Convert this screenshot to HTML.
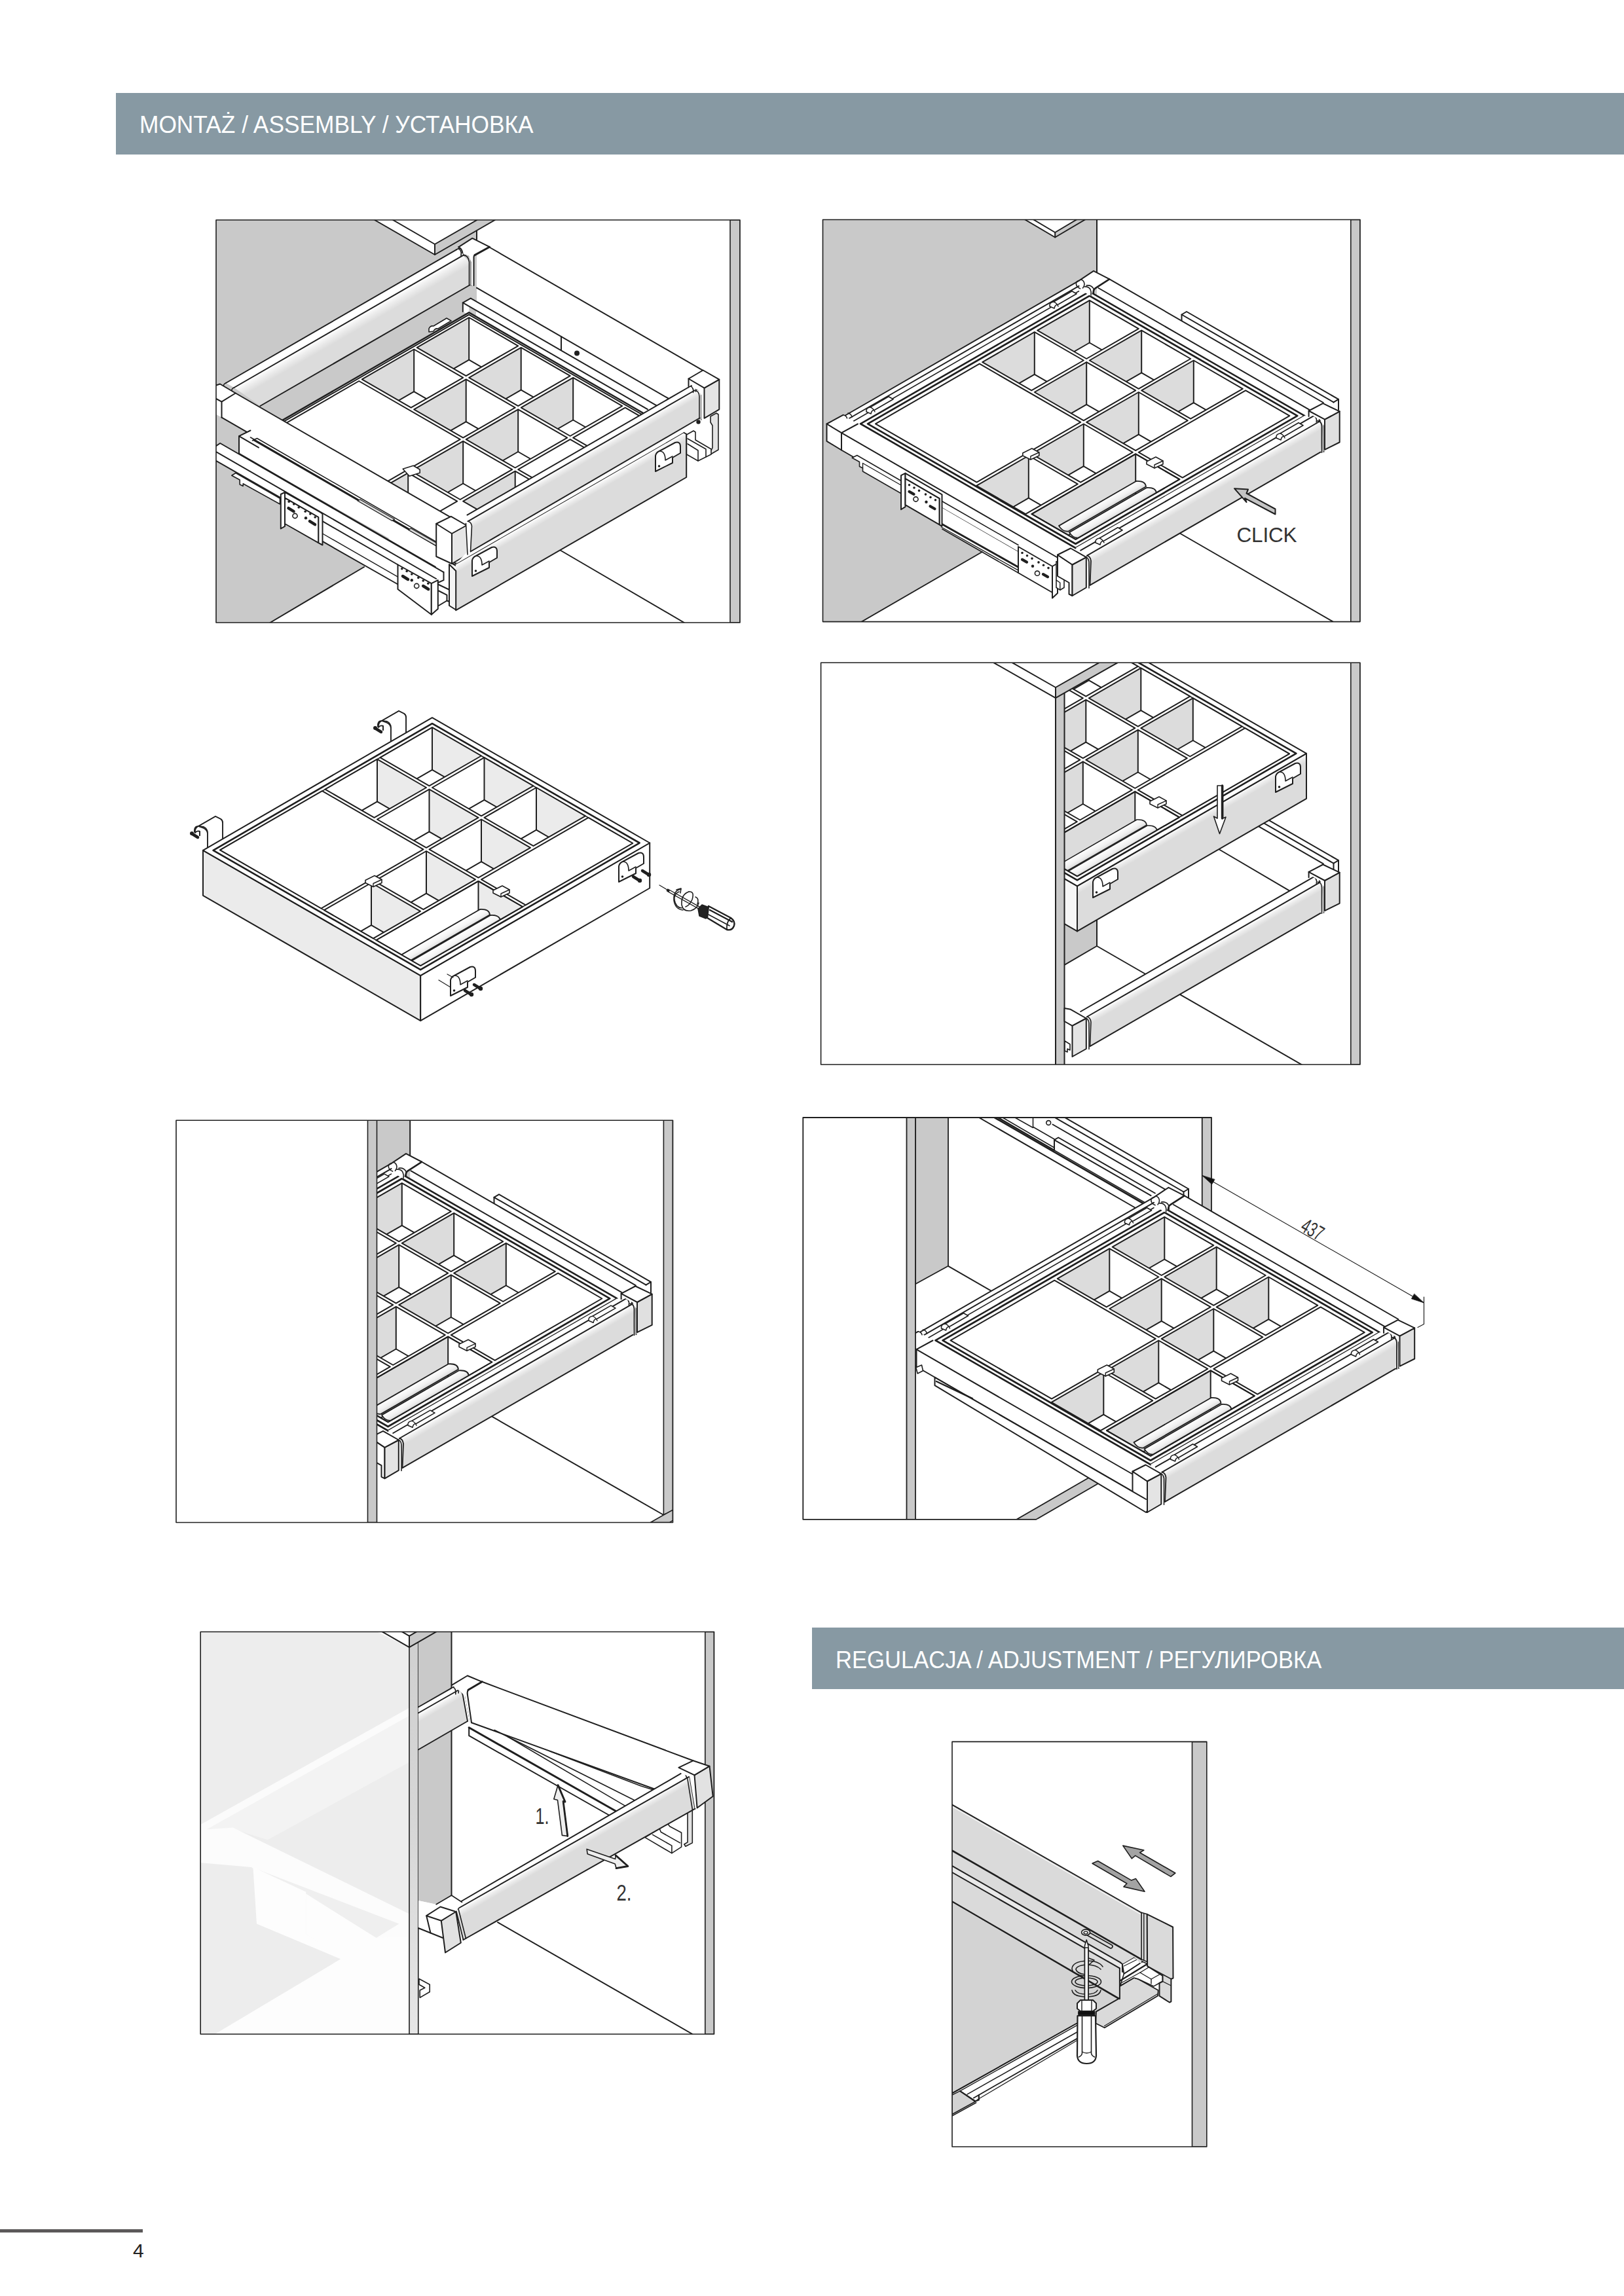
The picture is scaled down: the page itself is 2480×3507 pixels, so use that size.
<!DOCTYPE html>
<html lang="pl">
<head>
<meta charset="utf-8">
<title>Montaż / Assembly / Установка</title>
<style>
html,body{margin:0;padding:0;background:#fff;}
body{width:2480px;height:3507px;position:relative;overflow:hidden;font-family:"Liberation Sans",sans-serif;}
.bar{position:absolute;background:#8799a3;color:#fff;font-size:37px;white-space:nowrap;}
.bar span{position:absolute;left:0;top:0;display:inline-block;transform-origin:0 0;}
#bar1{left:177px;top:142px;width:2303px;height:94px;}
#bar2{left:1240px;top:2486px;width:1240px;height:94px;}
#foot{position:absolute;left:0;top:3405px;width:218px;height:4.5px;background:#5c595a;}
#pno{position:absolute;left:203px;top:3423px;font-size:30px;color:#222;line-height:1;}
svg{position:absolute;left:0;top:0;}
.lbl{font-family:"Liberation Sans",sans-serif;fill:#333;}
</style>
</head>
<body>
<div class="bar" id="bar1"><span id="t1" style="left:36px;top:28px;transform:scaleX(0.954);">MONTAŻ / ASSEMBLY / УСТАНОВКА</span></div>
<div class="bar" id="bar2"><span id="t2" style="left:36px;top:28.5px;transform:scaleX(0.935);">REGULACJA / ADJUSTMENT / РЕГУЛИРОВКА</span></div>
<div id="foot"></div>
<div id="pno">4</div>
<svg width="2480" height="3507" viewBox="0 0 2480 3507" fill="none" stroke="#222" stroke-width="2" stroke-linejoin="round" stroke-linecap="round">
<defs>
<linearGradient id="gtube" x1="0" y1="0" x2="0.5" y2="0.866"><stop offset="0" stop-color="#fff"/><stop offset="1" stop-color="#d4d4d4"/></linearGradient>
</defs>
<g id="fig1">
<clipPath id="cp1"><polygon points="330.0,336.0 1130.0,336.0 1130.0,951.0 330.0,951.0"/></clipPath><g clip-path="url(#cp1)">
<polygon points="330.0,336.0 728.0,336.0 728.0,470.0 700.0,700.0 556.0,866.0 412.0,951.0 330.0,951.0" fill="#c9c9c9" stroke="none" />
<polyline points="412.5,951.0 556.0,866.0" fill="none" stroke="#1f1f1f" stroke-width="2" />
<polyline points="728.0,352.8 728.0,366.0" fill="none" stroke="#1f1f1f" stroke-width="2" />
<rect x="1115" y="336" width="15" height="615" fill="#c9c9c9" stroke="#1f1f1f" stroke-width="1.6"/>
<polyline points="854.8,840.0 1044.8,951.0" fill="none" stroke="#1f1f1f" stroke-width="2" />
<polygon points="572.0,336.0 664.0,389.0 756.0,336.0" fill="#fff" stroke="none" />
<polygon points="664.0,373.0 728.0,336.0 756.0,336.0 664.0,389.0" fill="#c9c9c9" stroke="none" />
<polyline points="600.0,336.0 664.0,373.0 728.5,336.0" fill="none" stroke="#1f1f1f" stroke-width="2" />
<polyline points="572.0,336.0 664.0,389.0 756.0,336.0" fill="none" stroke="#1f1f1f" stroke-width="2" />
<polyline points="664.0,373.0 664.0,389.0" fill="none" stroke="#1f1f1f" stroke-width="2" />
<polyline points="747.2,377.5 1073.5,565.9" fill="none" stroke="#1f1f1f" stroke-width="2" />
<polyline points="728.0,439.6 1020.0,608.2" fill="none" stroke="#1f1f1f" stroke-width="2" />
<polyline points="857.0,514.0 857.0,535.5" fill="none" stroke="#1f1f1f" stroke-width="2" />
<circle cx="881.0" cy="539.5" r="4" fill="#1f1f1f" stroke="none"/>
<polygon points="706.8,462.4 718.8,455.6 1003.8,620.1 988.8,625.2" fill="#fff" stroke="none" />
<polygon points="706.8,462.4 706.8,476.0 716.4,481.0 716.4,468.0" fill="#fff" stroke="none" />
<polyline points="1003.8,620.1 718.8,455.6 706.8,462.4 988.8,625.2" fill="none" stroke="#1f1f1f" stroke-width="2" />
<polyline points="706.8,462.4 706.8,476.0" fill="none" stroke="#1f1f1f" stroke-width="2" />
<polygon points="716.2,477.4 1042.9,666.0 698.2,865.0 371.5,676.4" fill="#fff" stroke="#1f1f1f" stroke-width="2.5" />
<polygon points="716.2,480.6 1037.3,666.0 698.2,861.8 377.1,676.4" fill="none" stroke="#1f1f1f" stroke-width="2" />
<polygon points="716.2,485.0 791.2,528.3 711.7,574.2 636.7,530.9" fill="#fff" stroke="none" />
<clipPath id="cp2"><polygon points="716.2,485.0 791.2,528.3 711.7,574.2 636.7,530.9"/></clipPath><g clip-path="url(#cp2)">
<polygon points="716.2,485.0 636.7,530.9 636.7,595.6 716.2,549.7" fill="#dcdcdc" stroke="none" />
<polyline points="716.2,485.0 716.2,549.7" fill="none" stroke="#1f1f1f" stroke-width="2" />
<polyline points="636.7,595.6 716.2,549.7 791.2,593.0" fill="none" stroke="#1f1f1f" stroke-width="2" />
</g>
<polygon points="716.2,485.0 791.2,528.3 711.7,574.2 636.7,530.9" fill="none" stroke="#1f1f1f" stroke-width="2" />
<polygon points="795.7,530.9 870.7,574.2 791.2,620.1 716.2,576.8" fill="#fff" stroke="none" />
<clipPath id="cp3"><polygon points="795.7,530.9 870.7,574.2 791.2,620.1 716.2,576.8"/></clipPath><g clip-path="url(#cp3)">
<polygon points="795.7,530.9 716.2,576.8 716.2,641.5 795.7,595.6" fill="#dcdcdc" stroke="none" />
<polyline points="795.7,530.9 795.7,595.6" fill="none" stroke="#1f1f1f" stroke-width="2" />
<polyline points="716.2,641.5 795.7,595.6 870.7,638.9" fill="none" stroke="#1f1f1f" stroke-width="2" />
</g>
<polygon points="795.7,530.9 870.7,574.2 791.2,620.1 716.2,576.8" fill="none" stroke="#1f1f1f" stroke-width="2" />
<polygon points="875.2,576.8 950.2,620.1 870.7,666.0 795.7,622.7" fill="#fff" stroke="none" />
<clipPath id="cp4"><polygon points="875.2,576.8 950.2,620.1 870.7,666.0 795.7,622.7"/></clipPath><g clip-path="url(#cp4)">
<polygon points="875.2,576.8 795.7,622.7 795.7,687.4 875.2,641.5" fill="#dcdcdc" stroke="none" />
<polyline points="875.2,576.8 875.2,641.5" fill="none" stroke="#1f1f1f" stroke-width="2" />
<polyline points="795.7,687.4 875.2,641.5 950.2,684.8" fill="none" stroke="#1f1f1f" stroke-width="2" />
</g>
<polygon points="875.2,576.8 950.2,620.1 870.7,666.0 795.7,622.7" fill="none" stroke="#1f1f1f" stroke-width="2" />
<polygon points="632.2,533.5 707.2,576.8 627.7,622.7 552.7,579.4" fill="#fff" stroke="none" />
<clipPath id="cp5"><polygon points="632.2,533.5 707.2,576.8 627.7,622.7 552.7,579.4"/></clipPath><g clip-path="url(#cp5)">
<polygon points="632.2,533.5 552.7,579.4 552.7,644.1 632.2,598.2" fill="#dcdcdc" stroke="none" />
<polyline points="632.2,533.5 632.2,598.2" fill="none" stroke="#1f1f1f" stroke-width="2" />
<polyline points="552.7,644.1 632.2,598.2 707.2,641.5" fill="none" stroke="#1f1f1f" stroke-width="2" />
</g>
<polygon points="632.2,533.5 707.2,576.8 627.7,622.7 552.7,579.4" fill="none" stroke="#1f1f1f" stroke-width="2" />
<polygon points="711.7,579.4 786.7,622.7 707.2,668.6 632.2,625.3" fill="#fff" stroke="none" />
<clipPath id="cp6"><polygon points="711.7,579.4 786.7,622.7 707.2,668.6 632.2,625.3"/></clipPath><g clip-path="url(#cp6)">
<polygon points="711.7,579.4 632.2,625.3 632.2,690.0 711.7,644.1" fill="#dcdcdc" stroke="none" />
<polyline points="711.7,579.4 711.7,644.1" fill="none" stroke="#1f1f1f" stroke-width="2" />
<polyline points="632.2,690.0 711.7,644.1 786.7,687.4" fill="none" stroke="#1f1f1f" stroke-width="2" />
</g>
<polygon points="711.7,579.4 786.7,622.7 707.2,668.6 632.2,625.3" fill="none" stroke="#1f1f1f" stroke-width="2" />
<polygon points="791.2,625.3 866.2,668.6 786.7,714.5 711.7,671.2" fill="#fff" stroke="none" />
<clipPath id="cp7"><polygon points="791.2,625.3 866.2,668.6 786.7,714.5 711.7,671.2"/></clipPath><g clip-path="url(#cp7)">
<polygon points="791.2,625.3 711.7,671.2 711.7,735.9 791.2,690.0" fill="#dcdcdc" stroke="none" />
<polyline points="791.2,625.3 791.2,690.0" fill="none" stroke="#1f1f1f" stroke-width="2" />
<polyline points="711.7,735.9 791.2,690.0 866.2,733.3" fill="none" stroke="#1f1f1f" stroke-width="2" />
</g>
<polygon points="791.2,625.3 866.2,668.6 786.7,714.5 711.7,671.2" fill="none" stroke="#1f1f1f" stroke-width="2" />
<polygon points="707.2,673.8 782.2,717.1 702.7,763.0 627.7,719.7" fill="#fff" stroke="none" />
<clipPath id="cp8"><polygon points="707.2,673.8 782.2,717.1 702.7,763.0 627.7,719.7"/></clipPath><g clip-path="url(#cp8)">
<polygon points="707.2,673.8 627.7,719.7 627.7,784.4 707.2,738.5" fill="#dcdcdc" stroke="none" />
<polyline points="707.2,673.8 707.2,738.5" fill="none" stroke="#1f1f1f" stroke-width="2" />
<polyline points="627.7,784.4 707.2,738.5 782.2,781.8" fill="none" stroke="#1f1f1f" stroke-width="2" />
</g>
<polygon points="707.2,673.8 782.2,717.1 702.7,763.0 627.7,719.7" fill="none" stroke="#1f1f1f" stroke-width="2" />
<polygon points="786.7,719.7 861.7,763.0 782.2,808.9 707.2,765.6" fill="#fff" stroke="none" />
<clipPath id="cp9"><polygon points="786.7,719.7 861.7,763.0 782.2,808.9 707.2,765.6"/></clipPath><g clip-path="url(#cp9)">
<polygon points="786.7,719.7 707.2,765.6 707.2,830.3 786.7,784.4" fill="#dcdcdc" stroke="none" />
<polyline points="786.7,719.7 786.7,784.4" fill="none" stroke="#1f1f1f" stroke-width="2" />
<polyline points="707.2,830.3 786.7,784.4 861.7,827.7" fill="none" stroke="#1f1f1f" stroke-width="2" />
</g>
<polygon points="786.7,719.7 861.7,763.0 782.2,808.9 707.2,765.6" fill="none" stroke="#1f1f1f" stroke-width="2" />
<polygon points="623.2,722.3 698.2,765.6 618.7,811.5 543.7,768.2" fill="#fff" stroke="none" />
<clipPath id="cp10"><polygon points="623.2,722.3 698.2,765.6 618.7,811.5 543.7,768.2"/></clipPath><g clip-path="url(#cp10)">
<polygon points="623.2,722.3 543.7,768.2 543.7,832.9 623.2,787.0" fill="#dcdcdc" stroke="none" />
<polyline points="623.2,722.3 623.2,787.0" fill="none" stroke="#1f1f1f" stroke-width="2" />
<polyline points="543.7,832.9 623.2,787.0 698.2,830.3" fill="none" stroke="#1f1f1f" stroke-width="2" />
</g>
<polygon points="623.2,722.3 698.2,765.6 618.7,811.5 543.7,768.2" fill="none" stroke="#1f1f1f" stroke-width="2" />
<polygon points="548.2,582.0 702.7,671.2 539.2,765.6 384.7,676.4" fill="#fff" stroke="#1f1f1f" stroke-width="2" />
<polygon points="954.7,622.7 1029.7,666.0 950.2,711.9 875.2,668.6" fill="#fff" stroke="#1f1f1f" stroke-width="2" />
<polygon points="870.7,671.2 945.7,714.5 866.2,760.4 791.2,717.1" fill="#fff" stroke="#1f1f1f" stroke-width="2" />
<path d="M655,507 l0,-5 q2,-5 7,-4 l20,-12 l7,4 l-20,12 q-5,-1 -7,4 z" fill="#fff" stroke="#1f1f1f" stroke-width="1.6" />
<path d="M615.2,716.2909606369362 l16,-5 l10,6 l0,5 l-16,5 z" fill="#fff" stroke="#1f1f1f" stroke-width="1.6" />
<linearGradient id="lg11" gradientUnits="userSpaceOnUse" x1="707.0" y1="390.2" x2="716.0" y2="405.8"><stop offset="0" stop-color="#fff"/><stop offset="0.5" stop-color="#ececec"/><stop offset="1" stop-color="#dcdcdc"/></linearGradient>
<polygon points="345.0,585.0 697.0,381.4 704.0,379.0 707.0,390.2 357.5,592.0" fill="#fff" stroke="none" />
<polygon points="357.5,592.0 707.0,390.2 717.2,400.0 717.2,435.5 397.5,620.0" fill="url(#lg11)" stroke="none" />
<polyline points="345.0,585.0 697.0,381.4" fill="none" stroke="#1f1f1f" stroke-width="2" />
<polyline points="357.5,592.0 707.0,390.2" fill="none" stroke="#1f1f1f" stroke-width="2" />
<polyline points="397.5,620.0 717.2,435.5" fill="none" stroke="#1f1f1f" stroke-width="2" />
<path d="M697,381.4 q4,-3 6,1 q2,3 1,8" fill="none" stroke="#1f1f1f" stroke-width="1.6" />
<path d="M700,380 q4,-3 7,1 q2,3 1,8" fill="none" stroke="#1f1f1f" stroke-width="1.6" />
<path d="M707,390.2 q8,-1 9.5,10 L716.5,436" fill="none" stroke="#1f1f1f" stroke-width="1.6" />
<path d="M710,389 q9,-1 9.5,11 L719.5,436" fill="none" stroke="#1f1f1f" stroke-width="1.6" />
<polygon points="700.3,377.4 721.3,363.9 747.1,376.8 725.0,389.3 723.8,392.0 723.8,436.0 719.5,436.0 719.5,400.0 716.0,391.0 708.0,388.0 704.0,380.0" fill="#fff" stroke="none" />
<path d="M700.3,377.4 L721.3,363.9 L747.1,376.8" fill="none" stroke="#1f1f1f" stroke-width="2" />
<path d="M747.5,377.3 L725,389.6" fill="none" stroke="#1f1f1f" stroke-width="3" />
<path d="M725,389.6 q-1.5,1 -1.5,3 L723.5,436" fill="none" stroke="#1f1f1f" stroke-width="2" />
<path d="M700.3,377.4 q5,2 6,9" fill="none" stroke="#1f1f1f" stroke-width="2" />
<path d="M345,585 q-5,2 -3,6 q3,5 8,6" fill="none" stroke="#1f1f1f" stroke-width="1.6" />
<path d="M357.5,592 q-5,2 -3,6 q3,5 8,7" fill="none" stroke="#1f1f1f" stroke-width="1.6" />
<polygon points="359.7,600.5 691.7,792.2 688.5,839.7 338.5,637.6 338.5,613.6" fill="#fff" stroke="none" />
<polyline points="359.7,600.5 691.7,792.2" fill="none" stroke="#1f1f1f" stroke-width="2" />
<polyline points="338.5,637.6 688.5,839.7" fill="none" stroke="#1f1f1f" stroke-width="2" />
<polygon points="330.0,588.0 335.0,586.0 359.7,600.5 338.5,613.6 338.5,637.6 330.0,633.0" fill="#fff" stroke="none" />
<polyline points="330.0,588.5 336.0,586.5 359.7,600.5 338.5,613.6 338.5,637.6" fill="none" stroke="#1f1f1f" stroke-width="2" />
<polyline points="338.5,613.6 330.0,609.0" fill="none" stroke="#1f1f1f" stroke-width="2" />
<polygon points="336.2,677.0 677.5,873.8 677.5,887.5 695.0,905.0 695.0,922.5 682.5,917.5 668.8,930.0 658.8,938.8 607.5,900.0 607.5,892.5 491.2,826.2 488.0,831.2 435.0,801.2 428.8,807.5 428.8,760.0 330.0,703.8 330.0,681.2" fill="#fff" stroke="none" />
<polygon points="365.0,666.2 382.5,657.5 686.2,832.5 686.2,855.0 670.0,865.0 365.0,692.5" fill="#fff" stroke="none" />
<polyline points="365.0,692.5 365.0,666.2 382.5,657.5" fill="none" stroke="#1f1f1f" stroke-width="2" />
<polyline points="365.0,666.2 395.0,683.6" fill="none" stroke="#1f1f1f" stroke-width="2" />
<polyline points="382.5,668.0 682.5,841.2" fill="none" stroke="#1f1f1f" stroke-width="1.6" />
<polyline points="387.5,672.0 685.5,844.1" fill="none" stroke="#1f1f1f" stroke-width="2.6" />
<polyline points="385.5,673.0 392.5,669.5 684.5,838.1" fill="none" stroke="#1f1f1f" stroke-width="1.6" />
<polygon points="550.0,763.0 602.5,793.0 598.8,795.5 546.2,765.0" fill="#dcdcdc" stroke="#1f1f1f" stroke-width="1.4" />
<polygon points="627.5,807.0 670.0,831.2 666.2,833.8 623.8,809.5" fill="#dcdcdc" stroke="#1f1f1f" stroke-width="1.4" />
<polyline points="330.0,681.2 336.2,677.0 677.2,873.9" fill="none" stroke="#1f1f1f" stroke-width="2" />
<polyline points="330.0,690.0 666.0,884.0" fill="none" stroke="#1f1f1f" stroke-width="2" />
<polyline points="365.0,692.5 665.0,865.7" fill="none" stroke="#1f1f1f" stroke-width="1.6" />
<polyline points="330.0,703.8 430.0,761.2" fill="none" stroke="#1f1f1f" stroke-width="2" />
<polyline points="492.5,796.2 607.5,862.5" fill="none" stroke="#1f1f1f" stroke-width="2" />
<polyline points="491.2,826.2 607.5,892.5" fill="none" stroke="#1f1f1f" stroke-width="2" />
<polyline points="492.5,815.0 607.5,881.2" fill="none" stroke="#1f1f1f" stroke-width="1.4" />
<polygon points="353.8,726.2 360.0,722.5 427.5,761.2 427.5,770.0 371.2,738.8 371.2,742.5 366.2,740.0 366.2,733.0" fill="#fff" stroke="#1f1f1f" stroke-width="1.6" />
<polygon points="428.8,755.0 435.0,751.8 435.0,803.8 428.8,807.5" fill="#fff" stroke="#1f1f1f" stroke-width="2" />
<polygon points="435.0,751.8 490.0,783.0 492.5,785.0 492.5,832.5 486.2,829.2 486.2,790.0 435.0,760.5" fill="#fff" stroke="#1f1f1f" stroke-width="2" />
<polygon points="435.0,760.5 486.2,790.0 486.2,829.2 435.0,800.0" fill="#fff" stroke="#1f1f1f" stroke-width="2" />
<circle cx="441.2" cy="766.2" r="1.8" fill="#1f1f1f" stroke="none"/>
<circle cx="448.8" cy="770.0" r="1.8" fill="#1f1f1f" stroke="none"/>
<circle cx="456.2" cy="775.0" r="1.8" fill="#1f1f1f" stroke="none"/>
<circle cx="466.2" cy="781.2" r="1.8" fill="#1f1f1f" stroke="none"/>
<circle cx="473.8" cy="785.0" r="1.8" fill="#1f1f1f" stroke="none"/>
<circle cx="481.2" cy="790.0" r="1.8" fill="#1f1f1f" stroke="none"/>
<circle cx="467.0" cy="791.2" r="2.2" fill="#1f1f1f" stroke="none"/>
<circle cx="450.5" cy="788.0" r="3.6" fill="#fff" stroke="#1f1f1f" stroke-width="1.6"/>
<path d="M440.5,776.2 l8,5" fill="none" stroke="#1f1f1f" stroke-width="4.5" />
<path d="M473.0,796.2 l8,5" fill="none" stroke="#1f1f1f" stroke-width="4.5" />
<polygon points="607.5,862.5 658.8,891.2 658.8,938.8 607.5,900.0" fill="#fff" stroke="#1f1f1f" stroke-width="2" />
<polygon points="658.8,891.2 668.8,886.2 668.8,930.0 658.8,938.8" fill="#fff" stroke="#1f1f1f" stroke-width="2" />
<circle cx="613.8" cy="868.8" r="1.8" fill="#1f1f1f" stroke="none"/>
<circle cx="621.2" cy="872.5" r="1.8" fill="#1f1f1f" stroke="none"/>
<circle cx="628.8" cy="877.0" r="1.8" fill="#1f1f1f" stroke="none"/>
<circle cx="638.8" cy="882.5" r="1.8" fill="#1f1f1f" stroke="none"/>
<circle cx="646.2" cy="887.0" r="1.8" fill="#1f1f1f" stroke="none"/>
<circle cx="653.8" cy="891.2" r="1.8" fill="#1f1f1f" stroke="none"/>
<circle cx="628.8" cy="886.2" r="2.2" fill="#1f1f1f" stroke="none"/>
<circle cx="636.2" cy="895.0" r="3.6" fill="#fff" stroke="#1f1f1f" stroke-width="1.6"/>
<path d="M615.0,880.0 l8,5" fill="none" stroke="#1f1f1f" stroke-width="4.5" />
<path d="M646.2,895.0 l8,5" fill="none" stroke="#1f1f1f" stroke-width="4.5" />
<polyline points="677.5,873.8 677.5,886.2 668.8,890.0" fill="none" stroke="#1f1f1f" stroke-width="2" />
<polyline points="668.8,892.5 695.0,905.0 695.0,922.5 682.5,917.5 682.5,908.8 670.0,902.5" fill="none" stroke="#1f1f1f" stroke-width="2" />
<polyline points="682.5,917.5 670.0,925.0" fill="none" stroke="#1f1f1f" stroke-width="2" />
<polygon points="666.2,800.0 690.0,815.0 690.0,861.0 666.2,850.0" fill="#fff" stroke="none" />
<polygon points="690.0,815.0 712.5,802.5 714.0,847.0 690.0,861.0" fill="#e6e6e6" stroke="none" />
<polygon points="666.2,800.0 688.8,788.8 712.5,802.5 690.0,815.0" fill="#fff" stroke="#1f1f1f" stroke-width="2" />
<polyline points="666.2,800.0 666.2,850.0 690.0,861.0 690.0,815.0" fill="none" stroke="#1f1f1f" stroke-width="2" />
<polyline points="690.0,861.0 714.0,847.0" fill="none" stroke="#1f1f1f" stroke-width="2" />
<linearGradient id="lg12" gradientUnits="userSpaceOnUse" x1="900.0" y1="744.0" x2="906.0" y2="754.4"><stop offset="0" stop-color="#fff"/><stop offset="0.5" stop-color="#ececec"/><stop offset="1" stop-color="#dcdcdc"/></linearGradient>
<polygon points="1043.8,660.5 1048.2,663.0 1048.2,729.0 696.2,932.2 696.0,872.0 695.8,861.4" fill="url(#lg12)" stroke="none" />
<polyline points="695.8,861.4 1043.8,660.5 1048.2,663.0 1048.2,729.0 696.2,932.2" fill="none" stroke="#1f1f1f" stroke-width="2" />
<polygon points="696.2,872.0 696.2,931.5 686.0,925.0 686.0,862.0" fill="#f4f4f4" stroke="#1f1f1f" stroke-width="2" />
<polygon points="1068.5,638.5 712.5,844.0 695.8,861.4 1043.8,660.5 1047.0,652.0" fill="#fff" stroke="none" />
<linearGradient id="lg13" gradientUnits="userSpaceOnUse" x1="900.0" y1="689.0" x2="906.0" y2="699.4"><stop offset="0" stop-color="#fff"/><stop offset="0.5" stop-color="#ececec"/><stop offset="1" stop-color="#dcdcdc"/></linearGradient>
<polygon points="1051.5,591.5 1056.0,590.5 1060.5,596.5 714.5,796.3 713.5,786.6" fill="#fff" stroke="none" />
<polygon points="1060.5,596.5 1068.5,603.0 1068.5,638.5 718.5,842.5 720.5,803.0 714.5,796.3" fill="url(#lg13)" stroke="none" />
<polyline points="1051.5,591.5 713.5,786.6" fill="none" stroke="#1f1f1f" stroke-width="2" />
<polyline points="1060.5,596.5 714.5,796.3" fill="none" stroke="#1f1f1f" stroke-width="2" />
<polyline points="1068.5,638.5 718.5,842.5" fill="none" stroke="#1f1f1f" stroke-width="2" />
<polygon points="711.5,799.5 714.5,796.3 720.5,803.0 718.5,842.5 714.0,847.0" fill="#fff" stroke="none" />
<path d="M711.5,799.5 L714,847" fill="none" stroke="#1f1f1f" stroke-width="1.6" />
<path d="M714.5,796.3 q5,1 6,7 L718.5,842.5" fill="none" stroke="#1f1f1f" stroke-width="1.6" />
<path d="M1051.5,591.5 q4,-3 6,1 q2,3 1,7" fill="none" stroke="#1f1f1f" stroke-width="1.6" />
<path d="M1054.5,590 q4,-3 7,1 q2,3 1,7" fill="none" stroke="#1f1f1f" stroke-width="1.6" />
<path d="M1060.5,596.5 q7,0 7.5,9 L1068,640" fill="none" stroke="#1f1f1f" stroke-width="1.6" />
<path d="M1063.5,595 q7,0 7.5,9 L1071,641" fill="none" stroke="#1f1f1f" stroke-width="1.6" />
<polygon points="1051.5,578.5 1073.6,565.5 1098.3,579.7 1098.3,625.3 1075.5,638.8 1071.0,641.0 1071.0,604.0 1067.0,596.5 1058.0,592.0 1054.0,582.0" fill="#fff" stroke="none" />
<polygon points="1075.5,592.6 1098.3,579.7 1098.3,625.3 1075.5,638.8" fill="#e4e4e4" stroke="#1f1f1f" stroke-width="2" />
<polygon points="1051.5,578.5 1073.6,565.5 1098.3,579.7 1075.5,592.6" fill="#fff" stroke="#1f1f1f" stroke-width="2" />
<polyline points="1051.5,578.5 1051.5,590.0" fill="none" stroke="#1f1f1f" stroke-width="2" />
<polygon points="1085.0,636.0 1094.0,631.0 1097.0,633.0 1097.0,687.0 1085.0,694.0 1085.0,690.0 1088.0,684.0 1088.0,650.0 1085.0,645.0" fill="#e4e4e4" stroke="#1f1f1f" stroke-width="1.6" />
<polygon points="1048.5,664.0 1059.0,658.0 1062.0,660.0 1062.0,672.0 1086.0,686.0 1086.0,694.0 1066.0,704.0 1048.5,694.0" fill="#fff" stroke="#1f1f1f" stroke-width="1.6" />
<polyline points="1050.0,670.0 1078.0,686.0 1078.0,698.0" fill="none" stroke="#1f1f1f" stroke-width="1.6" />
<polyline points="1050.0,678.0 1066.0,688.0 1066.0,704.0" fill="none" stroke="#1f1f1f" stroke-width="1.6" />
<circle cx="1066.5" cy="644.5" r="3.2" fill="#1f1f1f" stroke="none"/>
<path d="M1001,720 l0,-24 q1,-5 6,-7 l24,-13 q8,-2 8,6 l0,10 l-12,7 l0,8 z" fill="#fff" stroke="#1f1f1f" stroke-width="2" />
<path d="M1007,689 q9,0 9,14 l11,-6" fill="none" stroke="#1f1f1f" stroke-width="1.6" />
<circle cx="1006.5" cy="712.0" r="1.8" fill="#1f1f1f" stroke="none"/>
<path d="M721,880 l0,-24 q1,-5 6,-7 l24,-13 q8,-2 8,6 l0,10 l-12,7 l0,8 z" fill="#fff" stroke="#1f1f1f" stroke-width="2" />
<path d="M727,849 q9,0 9,14 l11,-6" fill="none" stroke="#1f1f1f" stroke-width="1.6" />
<circle cx="726.5" cy="872.0" r="1.8" fill="#1f1f1f" stroke="none"/>
</g>
<rect x="330" y="336" width="800" height="615" fill="none" stroke="#1f1f1f" stroke-width="1.6"/>
</g>

<g id="fig2">
<clipPath id="cp201"><polygon points="1256.5,335.5 2077.0,335.5 2077.0,949.6 1256.5,949.6"/></clipPath><g clip-path="url(#cp201)">
<polygon points="1256.0,335.0 1675.0,335.0 1675.0,450.0 1640.0,800.0 1505.0,840.0 1315.0,950.0 1256.0,950.0" fill="#c9c9c9" stroke="none" />
<polyline points="1315.0,950.0 1505.0,840.0" fill="none" stroke="#1f1f1f" stroke-width="2" />
<polyline points="1675.0,335.0 1675.0,416.0" fill="none" stroke="#1f1f1f" stroke-width="2" />
<rect x="2062.8" y="335.5" width="14.2" height="614.5" fill="#c9c9c9" stroke="#1f1f1f" stroke-width="1.6"/>
<polyline points="1802.5,815.0 2036.5,950.0" fill="none" stroke="#1f1f1f" stroke-width="2" />
<polygon points="1565.3,335.5 1611.2,362.5 1657.0,335.5" fill="#fff" stroke="none" />
<polygon points="1611.2,355.0 1644.0,335.5 1657.0,335.5 1611.2,362.5" fill="#c9c9c9" stroke="none" />
<polyline points="1578.3,335.5 1611.2,355.0 1644.0,335.5" fill="none" stroke="#1f1f1f" stroke-width="2" />
<polyline points="1565.3,335.5 1611.2,362.5 1657.0,335.5" fill="none" stroke="#1f1f1f" stroke-width="2" />
<polyline points="1611.2,355.0 1611.2,362.5" fill="none" stroke="#1f1f1f" stroke-width="2" />
<polygon points="1804.5,480.5 1812.0,476.0 2044.0,609.9 2044.0,625.9 2036.5,634.4 1804.5,492.5" fill="#fff" stroke="none" />
<polyline points="1804.5,492.5 1804.5,480.5 1812.0,476.0 2044.0,609.9 2044.0,625.9" fill="none" stroke="#1f1f1f" stroke-width="2" />
<polyline points="1804.5,480.5 2036.5,614.4" fill="none" stroke="#1f1f1f" stroke-width="2" />
<polyline points="1804.5,492.5 2032.5,624.1" fill="none" stroke="#1f1f1f" stroke-width="2" />
<polyline points="2036.5,614.4 2044.0,609.9" fill="none" stroke="#1f1f1f" stroke-width="2" />
<polygon points="1693.8,426.2 2020.8,615.0 1999.5,625.9 1677.5,440.0" fill="#fff" stroke="none" />
<polyline points="1693.8,426.2 2020.8,615.0" fill="none" stroke="#1f1f1f" stroke-width="2" />
<polyline points="1677.5,440.0 1999.5,625.9" fill="none" stroke="#1f1f1f" stroke-width="2" />
<polygon points="1290.0,635.0 1647.5,428.8 1672.0,440.0 1672.0,470.0 1300.0,670.0" fill="#fff" stroke="none" />
<polyline points="1290.0,635.0 1647.5,428.8" fill="none" stroke="#1f1f1f" stroke-width="2" />
<polyline points="1290.0,643.0 1647.5,436.8" fill="none" stroke="#1f1f1f" stroke-width="2" />
<polyline points="1290.0,651.0 1647.5,444.8" fill="none" stroke="#1f1f1f" stroke-width="1.6" />
<polygon points="1663.8,445.4 1992.3,635.1 1642.5,837.1 1314.0,647.4" fill="#fff" stroke="#1f1f1f" stroke-width="2.5" />
<polygon points="1663.8,451.9 1981.2,635.1 1642.5,830.7 1325.1,647.4" fill="none" stroke="#1f1f1f" stroke-width="2.8" />
<polygon points="1663.8,458.8 1738.8,502.1 1659.2,548.0 1584.2,504.6" fill="#fff" stroke="none" />
<clipPath id="cp202"><polygon points="1663.8,458.8 1738.8,502.1 1659.2,548.0 1584.2,504.6"/></clipPath><g clip-path="url(#cp202)">
<polygon points="1663.8,458.8 1584.2,504.6 1584.2,569.3 1663.8,523.5" fill="#dcdcdc" stroke="none" />
<polyline points="1663.8,458.8 1663.8,523.5" fill="none" stroke="#1f1f1f" stroke-width="2" />
<polyline points="1584.2,569.3 1663.8,523.5 1738.8,566.8" fill="none" stroke="#1f1f1f" stroke-width="2" />
</g>
<polygon points="1663.8,458.8 1738.8,502.1 1659.2,548.0 1584.2,504.6" fill="none" stroke="#1f1f1f" stroke-width="2" />
<polygon points="1743.2,504.6 1818.2,548.0 1738.8,593.8 1663.8,550.5" fill="#fff" stroke="none" />
<clipPath id="cp203"><polygon points="1743.2,504.6 1818.2,548.0 1738.8,593.8 1663.8,550.5"/></clipPath><g clip-path="url(#cp203)">
<polygon points="1743.2,504.6 1663.8,550.5 1663.8,615.2 1743.2,569.3" fill="#dcdcdc" stroke="none" />
<polyline points="1743.2,504.6 1743.2,569.3" fill="none" stroke="#1f1f1f" stroke-width="2" />
<polyline points="1663.8,615.2 1743.2,569.3 1818.2,612.7" fill="none" stroke="#1f1f1f" stroke-width="2" />
</g>
<polygon points="1743.2,504.6 1818.2,548.0 1738.8,593.8 1663.8,550.5" fill="none" stroke="#1f1f1f" stroke-width="2" />
<polygon points="1822.8,550.5 1897.8,593.8 1818.2,639.7 1743.2,596.4" fill="#fff" stroke="none" />
<clipPath id="cp204"><polygon points="1822.8,550.5 1897.8,593.8 1818.2,639.7 1743.2,596.4"/></clipPath><g clip-path="url(#cp204)">
<polygon points="1822.8,550.5 1743.2,596.4 1743.2,661.1 1822.8,615.2" fill="#dcdcdc" stroke="none" />
<polyline points="1822.8,550.5 1822.8,615.2" fill="none" stroke="#1f1f1f" stroke-width="2" />
<polyline points="1743.2,661.1 1822.8,615.2 1897.8,658.5" fill="none" stroke="#1f1f1f" stroke-width="2" />
</g>
<polygon points="1822.8,550.5 1897.8,593.8 1818.2,639.7 1743.2,596.4" fill="none" stroke="#1f1f1f" stroke-width="2" />
<polygon points="1579.8,507.2 1654.8,550.5 1575.2,596.4 1500.2,553.1" fill="#fff" stroke="none" />
<clipPath id="cp205"><polygon points="1579.8,507.2 1654.8,550.5 1575.2,596.4 1500.2,553.1"/></clipPath><g clip-path="url(#cp205)">
<polygon points="1579.8,507.2 1500.2,553.1 1500.2,617.8 1579.8,571.9" fill="#dcdcdc" stroke="none" />
<polyline points="1579.8,507.2 1579.8,571.9" fill="none" stroke="#1f1f1f" stroke-width="2" />
<polyline points="1500.2,617.8 1579.8,571.9 1654.8,615.2" fill="none" stroke="#1f1f1f" stroke-width="2" />
</g>
<polygon points="1579.8,507.2 1654.8,550.5 1575.2,596.4 1500.2,553.1" fill="none" stroke="#1f1f1f" stroke-width="2" />
<polygon points="1659.2,553.1 1734.2,596.4 1654.8,642.3 1579.8,599.0" fill="#fff" stroke="none" />
<clipPath id="cp206"><polygon points="1659.2,553.1 1734.2,596.4 1654.8,642.3 1579.8,599.0"/></clipPath><g clip-path="url(#cp206)">
<polygon points="1659.2,553.1 1579.8,599.0 1579.8,663.7 1659.2,617.8" fill="#dcdcdc" stroke="none" />
<polyline points="1659.2,553.1 1659.2,617.8" fill="none" stroke="#1f1f1f" stroke-width="2" />
<polyline points="1579.8,663.7 1659.2,617.8 1734.2,661.1" fill="none" stroke="#1f1f1f" stroke-width="2" />
</g>
<polygon points="1659.2,553.1 1734.2,596.4 1654.8,642.3 1579.8,599.0" fill="none" stroke="#1f1f1f" stroke-width="2" />
<polygon points="1738.8,599.0 1813.8,642.3 1734.2,688.2 1659.2,644.9" fill="#fff" stroke="none" />
<clipPath id="cp207"><polygon points="1738.8,599.0 1813.8,642.3 1734.2,688.2 1659.2,644.9"/></clipPath><g clip-path="url(#cp207)">
<polygon points="1738.8,599.0 1659.2,644.9 1659.2,709.6 1738.8,663.7" fill="#dcdcdc" stroke="none" />
<polyline points="1738.8,599.0 1738.8,663.7" fill="none" stroke="#1f1f1f" stroke-width="2" />
<polyline points="1659.2,709.6 1738.8,663.7 1813.8,707.0" fill="none" stroke="#1f1f1f" stroke-width="2" />
</g>
<polygon points="1738.8,599.0 1813.8,642.3 1734.2,688.2 1659.2,644.9" fill="none" stroke="#1f1f1f" stroke-width="2" />
<polygon points="1654.8,647.5 1729.8,690.8 1650.2,736.7 1575.2,693.4" fill="#fff" stroke="none" />
<clipPath id="cp208"><polygon points="1654.8,647.5 1729.8,690.8 1650.2,736.7 1575.2,693.4"/></clipPath><g clip-path="url(#cp208)">
<polygon points="1654.8,647.5 1575.2,693.4 1575.2,758.1 1654.8,712.2" fill="#dcdcdc" stroke="none" />
<polyline points="1654.8,647.5 1654.8,712.2" fill="none" stroke="#1f1f1f" stroke-width="2" />
<polyline points="1575.2,758.1 1654.8,712.2 1729.8,755.5" fill="none" stroke="#1f1f1f" stroke-width="2" />
</g>
<polygon points="1654.8,647.5 1729.8,690.8 1650.2,736.7 1575.2,693.4" fill="none" stroke="#1f1f1f" stroke-width="2" />
<polygon points="1570.8,696.0 1645.8,739.3 1566.2,785.2 1491.2,741.9" fill="#fff" stroke="none" />
<clipPath id="cp209"><polygon points="1570.8,696.0 1645.8,739.3 1566.2,785.2 1491.2,741.9"/></clipPath><g clip-path="url(#cp209)">
<polygon points="1570.8,696.0 1491.2,741.9 1491.2,806.6 1570.8,760.7" fill="#dcdcdc" stroke="none" />
<polyline points="1570.8,696.0 1570.8,760.7" fill="none" stroke="#1f1f1f" stroke-width="2" />
<polyline points="1491.2,806.6 1570.8,760.7 1645.8,804.0" fill="none" stroke="#1f1f1f" stroke-width="2" />
</g>
<polygon points="1570.8,696.0 1645.8,739.3 1566.2,785.2 1491.2,741.9" fill="none" stroke="#1f1f1f" stroke-width="2" />
<polygon points="1495.8,555.7 1650.2,644.9 1491.5,736.6 1337.0,647.4" fill="#fff" stroke="#1f1f1f" stroke-width="2" />
<polygon points="1902.2,596.4 1969.3,635.2 1805.8,729.6 1738.8,690.8" fill="#fff" stroke="#1f1f1f" stroke-width="2" />
<polygon points="1734.2,693.4 1801.3,732.2 1642.6,823.8 1575.5,785.1" fill="#fff" stroke="none" />
<clipPath id="cp210"><polygon points="1734.2,693.4 1801.3,732.2 1642.6,823.8 1575.5,785.1"/></clipPath><g clip-path="url(#cp210)">
<polygon points="1734.2,693.4 1575.5,785.1 1575.5,849.8 1734.2,758.1" fill="#dcdcdc" stroke="none" />
<polyline points="1734.2,693.4 1734.2,758.1" fill="none" stroke="#1f1f1f" stroke-width="2" />
<polyline points="1575.5,849.8 1734.2,758.1 1801.3,796.9" fill="none" stroke="#1f1f1f" stroke-width="2" />
</g>
<polygon points="1734.2,693.4 1801.3,732.2 1642.6,823.8 1575.5,785.1" fill="none" stroke="#1f1f1f" stroke-width="2" />
<clipPath id="cp211"><polygon points="1734.2,693.4 1801.3,732.2 1642.6,823.8 1575.5,785.1"/></clipPath><g clip-path="url(#cp211)">
<linearGradient id="lg212" gradientUnits="userSpaceOnUse" x1="1735.0" y1="735.0" x2="1742.5" y2="748.0"><stop offset="0" stop-color="#fff"/><stop offset="0.6" stop-color="#f0f0f0"/><stop offset="1" stop-color="#d6d6d6"/></linearGradient>
<path d="M1735.0,735.0 L1617.0,803.1 q6,10 15.0,8.2 L1750.0,743.2 q-1,-9 -15.0,-8.2 z" fill="url(#lg212)" stroke="#1f1f1f" stroke-width="1.8" />
<linearGradient id="lg213" gradientUnits="userSpaceOnUse" x1="1751.0" y1="745.0" x2="1758.5" y2="758.0"><stop offset="0" stop-color="#fff"/><stop offset="0.6" stop-color="#f0f0f0"/><stop offset="1" stop-color="#d6d6d6"/></linearGradient>
<path d="M1751.0,745.0 L1633.0,813.1 q6,10 15.0,8.2 L1766.0,753.2 q-1,-9 -15.0,-8.2 z" fill="url(#lg213)" stroke="#1f1f1f" stroke-width="1.8" />
</g>
<polygon points="1734.2,693.4 1801.3,732.2 1642.6,823.8 1575.5,785.1" fill="none" stroke="#1f1f1f" stroke-width="2" />
<path d="M1561.8,692.0 l14,-7 l11,6 l0,5 l-13,6 l-12,-6 z" fill="#fff" stroke="#1f1f1f" stroke-width="1.6" />
<path d="M1573.8,702.0 l0,-5 l13,-6" fill="none" stroke="#1f1f1f" stroke-width="1.4" />
<path d="M1751.0,705.0 l14,-7 l11,6 l0,5 l-13,6 l-12,-6 z" fill="#fff" stroke="#1f1f1f" stroke-width="1.6" />
<path d="M1763.0,715.0 l0,-5 l13,-6" fill="none" stroke="#1f1f1f" stroke-width="1.4" />
<path d="M1323.0,629.0 q-1,-6 6,-7 l28.0,-16.2 l7,4 l-28.0,16.2 q-5,0 -6,6 z" fill="#fff" stroke="#1f1f1f" stroke-width="1.6" />
<path d="M1329.0,622.0 q5,2 7,7" fill="none" stroke="#1f1f1f" stroke-width="1.4" />
<path d="M1603.0,468.0 q-1,-6 6,-7 l28.0,-16.2 l7,4 l-28.0,16.2 q-5,0 -6,6 z" fill="#fff" stroke="#1f1f1f" stroke-width="1.6" />
<path d="M1609.0,461.0 q5,2 7,7" fill="none" stroke="#1f1f1f" stroke-width="1.4" />
<polygon points="1647.5,428.8 1670.0,413.8 1693.8,426.2 1672.5,440.0 1670.0,443.0 1666.0,452.0 1655.0,446.0 1650.0,438.0" fill="#fff" stroke="none" />
<path d="M1647.5,428.8 L1670,413.8 L1693.8,426.2" fill="none" stroke="#1f1f1f" stroke-width="2" />
<path d="M1693.8,426.6 L1672.5,440.4 q-3,2 -3,8" fill="none" stroke="#1f1f1f" stroke-width="2.6" />
<path d="M1647.5,428.8 q-5,1 -4,6 q1,4 6,6" fill="none" stroke="#1f1f1f" stroke-width="1.6" />
<path d="M1650.5,427 q5,1 5.5,7 q0,3 -2.5,6" fill="none" stroke="#1f1f1f" stroke-width="1.6" />
<path d="M1656,438 q6,-1 9,4 q2,4 1,9" fill="none" stroke="#1f1f1f" stroke-width="1.6" />
<path d="M1659,436 q8,-1 11,5 q1,3 0.5,7" fill="none" stroke="#1f1f1f" stroke-width="1.6" />
<polygon points="1262.5,647.5 1287.5,633.8 1310.0,647.5 1285.0,661.2 1285.0,687.5 1262.5,673.8" fill="#fff" stroke="none" />
<polygon points="1306.2,650.0 1636.2,840.5 1612.5,876.6 1285.0,687.5 1285.0,661.2" fill="#fff" stroke="none" />
<polygon points="1314.0,647.4 1642.5,837.1 1613.8,851.0 1285.0,661.2 1310.0,647.5" fill="#fff" stroke="none" />
<polyline points="1314.0,647.4 1642.5,837.1" fill="none" stroke="#1f1f1f" stroke-width="2.4" />
<polyline points="1285.0,661.2 1262.5,647.5 1287.5,633.8" fill="none" stroke="#1f1f1f" stroke-width="2" />
<polyline points="1262.5,647.5 1262.5,673.8 1285.0,687.5 1285.0,661.2" fill="none" stroke="#1f1f1f" stroke-width="2" />
<polyline points="1285.0,661.2 1310.0,647.5" fill="none" stroke="#1f1f1f" stroke-width="2" />
<polyline points="1285.0,661.2 1613.8,851.0" fill="none" stroke="#1f1f1f" stroke-width="2" />
<polyline points="1285.0,687.5 1612.5,876.6" fill="none" stroke="#1f1f1f" stroke-width="2" />
<path d="M1287.5,633.8 q5,1 6,5 M1295,631 q5,1 6,6" fill="none" stroke="#1f1f1f" stroke-width="1.6" />
<polygon points="1301.2,699.2 1308.8,695.5 1376.2,734.5 1376.2,753.8 1317.5,720.0 1317.5,715.0 1312.5,712.5 1312.5,705.5" fill="#fff" stroke="#1f1f1f" stroke-width="1.6" />
<polyline points="1317.5,715.0 1317.5,707.5 1375.0,740.5" fill="none" stroke="#1f1f1f" stroke-width="1.4" />
<polygon points="1437.5,775.0 1555.0,843.0 1555.0,873.8 1437.5,806.2" fill="#fff" stroke="none" />
<polyline points="1437.5,800.0 1555.0,866.2" fill="none" stroke="#1f1f1f" stroke-width="3" />
<polyline points="1437.5,805.0 1555.0,871.2" fill="none" stroke="#1f1f1f" stroke-width="1.4" />
<polyline points="1438.8,808.0 1555.0,875.0" fill="none" stroke="#1f1f1f" stroke-width="1.6" />
<polyline points="1437.5,765.0 1555.0,832.5" fill="none" stroke="#1f1f1f" stroke-width="1.6" />
<polygon points="1376.0,726.2 1382.5,722.8 1382.5,774.2 1376.0,778.2" fill="#fff" stroke="#1f1f1f" stroke-width="2" />
<polygon points="1382.5,722.8 1438.5,755.3 1438.5,803.8 1434.5,801.3 1434.5,761.3 1382.5,731.2" fill="#fff" stroke="#1f1f1f" stroke-width="2" />
<polygon points="1382.5,731.2 1434.5,761.3 1434.5,801.3 1382.5,771.2" fill="#fff" stroke="#1f1f1f" stroke-width="2" />
<circle cx="1388.5" cy="740.7" r="1.8" fill="#1f1f1f" stroke="none"/>
<circle cx="1396.0" cy="745.0" r="1.8" fill="#1f1f1f" stroke="none"/>
<circle cx="1403.5" cy="749.4" r="1.8" fill="#1f1f1f" stroke="none"/>
<circle cx="1413.5" cy="755.1" r="1.8" fill="#1f1f1f" stroke="none"/>
<circle cx="1421.0" cy="759.5" r="1.8" fill="#1f1f1f" stroke="none"/>
<circle cx="1428.5" cy="763.8" r="1.8" fill="#1f1f1f" stroke="none"/>
<path d="M1388.5,750.9 l7,4" fill="none" stroke="#1f1f1f" stroke-width="4.2" />
<circle cx="1398.5" cy="762.5" r="3.6" fill="#fff" stroke="#1f1f1f" stroke-width="1.6"/>
<circle cx="1414.5" cy="766.7" r="2.2" fill="#1f1f1f" stroke="none"/>
<path d="M1420.5,773.3 l7,4" fill="none" stroke="#1f1f1f" stroke-width="4.2" />
<polygon points="1607.0,865.0 1615.0,860.5 1615.0,906.0 1607.0,913.5" fill="#fff" stroke="#1f1f1f" stroke-width="2" />
<polygon points="1555.0,835.0 1607.0,865.0 1607.0,905.0 1555.0,875.0" fill="#fff" stroke="#1f1f1f" stroke-width="2" />
<circle cx="1561.0" cy="844.5" r="1.8" fill="#1f1f1f" stroke="none"/>
<circle cx="1568.5" cy="848.8" r="1.8" fill="#1f1f1f" stroke="none"/>
<circle cx="1576.0" cy="853.1" r="1.8" fill="#1f1f1f" stroke="none"/>
<circle cx="1586.0" cy="858.9" r="1.8" fill="#1f1f1f" stroke="none"/>
<circle cx="1593.5" cy="863.2" r="1.8" fill="#1f1f1f" stroke="none"/>
<circle cx="1601.0" cy="867.6" r="1.8" fill="#1f1f1f" stroke="none"/>
<path d="M1561.0,854.6 l7,4" fill="none" stroke="#1f1f1f" stroke-width="4.2" />
<circle cx="1577.0" cy="864.7" r="2.2" fill="#1f1f1f" stroke="none"/>
<circle cx="1584.0" cy="875.7" r="3.6" fill="#fff" stroke="#1f1f1f" stroke-width="1.6"/>
<path d="M1593.0,877.1 l7,4" fill="none" stroke="#1f1f1f" stroke-width="4.2" />
<polygon points="1613.0,857.5 1625.0,865.0 1625.0,897.5 1618.8,901.2 1613.0,897.5" fill="#fff" stroke="#1f1f1f" stroke-width="1.6" />
<polyline points="1618.8,901.2 1618.8,890.0 1613.0,886.2" fill="none" stroke="#1f1f1f" stroke-width="1.4" />
<polygon points="1615.0,847.5 1637.5,862.5 1637.5,910.0 1632.5,907.5 1632.5,890.0 1615.0,880.0" fill="#fff" stroke="#1f1f1f" stroke-width="2" />
<polygon points="1637.5,862.5 1658.8,851.2 1658.8,897.5 1637.5,910.0" fill="#e4e4e4" stroke="#1f1f1f" stroke-width="2" />
<polygon points="1615.0,847.5 1635.0,837.5 1658.8,851.2 1637.5,862.5" fill="#fff" stroke="#1f1f1f" stroke-width="2" />
<polygon points="1992.3,635.1 1642.5,837.1 1660.0,848.7 2015.5,643.5" fill="#fff" stroke="none" />
<linearGradient id="lg214" gradientUnits="userSpaceOnUse" x1="1850.0" y1="739.0" x2="1856.0" y2="749.4"><stop offset="0" stop-color="#fff"/><stop offset="0.5" stop-color="#ececec"/><stop offset="1" stop-color="#dcdcdc"/></linearGradient>
<polygon points="2015.5,643.5 2021.0,650.0 2016.5,690.6 1664.5,893.8 1660.0,848.7" fill="url(#lg214)" stroke="none" />
<polyline points="2003.3,636.9 1650.3,840.7" fill="none" stroke="#1f1f1f" stroke-width="2" />
<polyline points="2015.5,643.5 1660.0,848.7" fill="none" stroke="#1f1f1f" stroke-width="2" />
<polyline points="2016.5,690.6 1664.5,893.8" fill="none" stroke="#1f1f1f" stroke-width="2" />
<path d="M1660.0,848.7 q5,1 6,8 L1664.5,893.8" fill="none" stroke="#1f1f1f" stroke-width="1.8" />
<path d="M1657.0,850.2 q5,1 6,8 l0,40" fill="none" stroke="#1f1f1f" stroke-width="1.6" />
<path d="M1673.0,829.0 q-1,-6 6,-7 l28.0,-16.2 l7,4 l-28.0,16.2 q-5,0 -6,6 z" fill="#fff" stroke="#1f1f1f" stroke-width="1.6" />
<path d="M1679.0,822.0 q5,2 7,7" fill="none" stroke="#1f1f1f" stroke-width="1.4" />
<path d="M1949.0,669.0 q-1,-6 6,-7 l28.0,-16.2 l7,4 l-28.0,16.2 q-5,0 -6,6 z" fill="#fff" stroke="#1f1f1f" stroke-width="1.6" />
<path d="M1955.0,662.0 q5,2 7,7" fill="none" stroke="#1f1f1f" stroke-width="1.4" />
<path d="M2003.3,636.9 q4,-3 6,1 q2,3 1,7" fill="none" stroke="#1f1f1f" stroke-width="1.6" />
<path d="M2006.5,635 q4,-3 7,1 q2,3 1,7" fill="none" stroke="#1f1f1f" stroke-width="1.6" />
<path d="M2012,643 q6,0 6.5,8 L2018.5,691" fill="none" stroke="#1f1f1f" stroke-width="1.8" />
<path d="M2015,641.5 q6,0 6.5,8 L2021.5,690" fill="none" stroke="#1f1f1f" stroke-width="1.8" />
<polygon points="1998.6,627.5 2020.3,616.2 2045.7,628.4 2045.7,675.5 2023.0,686.8 2021.5,690.0 2021.5,650.0 2016.0,641.0 2008.0,637.0 2001.0,632.0" fill="#fff" stroke="none" />
<polygon points="2023.0,640.7 2045.7,628.4 2045.7,675.5 2023.0,686.8" fill="#e0e0e0" stroke="#1f1f1f" stroke-width="2" />
<polygon points="1998.6,627.5 2020.3,616.2 2045.7,628.4 2023.0,640.7" fill="#fff" stroke="#1f1f1f" stroke-width="2" />
<polyline points="1998.6,627.5 1998.6,636.0" fill="none" stroke="#1f1f1f" stroke-width="2" />
<polygon points="1885.0,746.2 1906.0,747.5 1903.5,753.5 1947.5,777.5 1947.5,785.5 1901.0,761.0 1903.5,767.0" fill="#c4c4c4" stroke="#1f1f1f" stroke-width="2" />
<text x="1888.5" y="827.5" font-size="31.5" class="lbl" stroke="none" textLength="92" lengthAdjust="spacing">CLICK</text>
</g>
<rect x="1256.5" y="335.5" width="820.5" height="614.1" fill="none" stroke="#1f1f1f" stroke-width="1.6"/>
</g>

<g id="fig3">
<path d="M597,1138 l0,-25 q0,-6 -6,-9 l-8,-3 q-7,0 -6,9 q4,-4 8,-1 l0,6 M583,1101 l26,-15 l8,4 q3,2 3,6 l0,26 l-23,14" fill="#fff" stroke="#1f1f1f" stroke-width="1.8" />
<path d="M583,1101 l26,-15 l8,4 q3,2 3,6 l0,26 l-23,14 l0,-25 q0,-6 -6,-9 z" fill="#fff" stroke="#1f1f1f" stroke-width="1.8" />
<path d="M583,1101 q-6,3 -5,10 q3,-4 7,-2 l0,6" fill="#fff" stroke="#1f1f1f" stroke-width="1.8" />
<path d="M574,1113 l8,5" fill="none" stroke="#1f1f1f" stroke-width="4.5" />
<circle cx="573.0" cy="1112.0" r="3" fill="#1f1f1f" stroke="none"/>
<path d="M317,1299 l0,-25 q0,-6 -6,-9 l-8,-3 q-7,0 -6,9 q4,-4 8,-1 l0,6 M303,1262 l26,-15 l8,4 q3,2 3,6 l0,26 l-23,14" fill="#fff" stroke="#1f1f1f" stroke-width="1.8" />
<path d="M303,1262 l26,-15 l8,4 q3,2 3,6 l0,26 l-23,14 l0,-25 q0,-6 -6,-9 z" fill="#fff" stroke="#1f1f1f" stroke-width="1.8" />
<path d="M303,1262 q-6,3 -5,10 q3,-4 7,-2 l0,6" fill="#fff" stroke="#1f1f1f" stroke-width="1.8" />
<path d="M294,1274 l8,5" fill="none" stroke="#1f1f1f" stroke-width="4.5" />
<circle cx="293.0" cy="1273.0" r="3" fill="#1f1f1f" stroke="none"/>
<polygon points="310.0,1298.8 642.2,1490.1 642.2,1559.1 310.0,1367.8" fill="#ebebeb" stroke="#1f1f1f" stroke-width="2" />
<polygon points="642.2,1490.1 992.2,1287.5 992.2,1356.5 642.2,1559.1" fill="#fff" stroke="#1f1f1f" stroke-width="2" />
<polygon points="660.0,1096.2 992.2,1287.5 642.2,1490.1 310.0,1298.8" fill="#fff" stroke="#1f1f1f" stroke-width="2" />
<polygon points="660.0,1105.2 976.6,1287.5 642.2,1481.1 325.6,1298.8" fill="none" stroke="#1f1f1f" stroke-width="2.6" />
<polygon points="660.0,1111.2 966.2,1288.0 642.2,1475.0 336.0,1298.3" fill="#fff" stroke="#1f1f1f" stroke-width="1.6" />
<polygon points="660.0,1111.2 735.0,1154.5 655.5,1200.4 580.5,1157.1" fill="#fff" stroke="none" />
<clipPath id="cp401"><polygon points="660.0,1111.2 735.0,1154.5 655.5,1200.4 580.5,1157.1"/></clipPath><g clip-path="url(#cp401)">
<polygon points="660.0,1111.2 735.0,1154.5 735.0,1219.2 660.0,1175.9" fill="#ebebeb" stroke="none" />
<polyline points="660.0,1111.2 660.0,1175.9" fill="none" stroke="#1f1f1f" stroke-width="2" />
<polyline points="580.5,1221.8 660.0,1175.9 735.0,1219.2" fill="none" stroke="#1f1f1f" stroke-width="2" />
</g>
<polygon points="660.0,1111.2 735.0,1154.5 655.5,1200.4 580.5,1157.1" fill="none" stroke="#1f1f1f" stroke-width="2" />
<polygon points="739.5,1157.1 814.5,1200.4 735.0,1246.3 660.0,1203.0" fill="#fff" stroke="none" />
<clipPath id="cp402"><polygon points="739.5,1157.1 814.5,1200.4 735.0,1246.3 660.0,1203.0"/></clipPath><g clip-path="url(#cp402)">
<polygon points="739.5,1157.1 814.5,1200.4 814.5,1265.1 739.5,1221.8" fill="#ebebeb" stroke="none" />
<polyline points="739.5,1157.1 739.5,1221.8" fill="none" stroke="#1f1f1f" stroke-width="2" />
<polyline points="660.0,1267.7 739.5,1221.8 814.5,1265.1" fill="none" stroke="#1f1f1f" stroke-width="2" />
</g>
<polygon points="739.5,1157.1 814.5,1200.4 735.0,1246.3 660.0,1203.0" fill="none" stroke="#1f1f1f" stroke-width="2" />
<polygon points="819.0,1203.0 894.0,1246.3 814.5,1292.2 739.5,1248.9" fill="#fff" stroke="none" />
<clipPath id="cp403"><polygon points="819.0,1203.0 894.0,1246.3 814.5,1292.2 739.5,1248.9"/></clipPath><g clip-path="url(#cp403)">
<polygon points="819.0,1203.0 894.0,1246.3 894.0,1311.0 819.0,1267.7" fill="#ebebeb" stroke="none" />
<polyline points="819.0,1203.0 819.0,1267.7" fill="none" stroke="#1f1f1f" stroke-width="2" />
<polyline points="739.5,1313.6 819.0,1267.7 894.0,1311.0" fill="none" stroke="#1f1f1f" stroke-width="2" />
</g>
<polygon points="819.0,1203.0 894.0,1246.3 814.5,1292.2 739.5,1248.9" fill="none" stroke="#1f1f1f" stroke-width="2" />
<polygon points="576.0,1159.7 651.0,1203.0 571.5,1248.9 496.5,1205.6" fill="#fff" stroke="none" />
<clipPath id="cp404"><polygon points="576.0,1159.7 651.0,1203.0 571.5,1248.9 496.5,1205.6"/></clipPath><g clip-path="url(#cp404)">
<polygon points="576.0,1159.7 651.0,1203.0 651.0,1267.7 576.0,1224.4" fill="#ebebeb" stroke="none" />
<polyline points="576.0,1159.7 576.0,1224.4" fill="none" stroke="#1f1f1f" stroke-width="2" />
<polyline points="496.5,1270.3 576.0,1224.4 651.0,1267.7" fill="none" stroke="#1f1f1f" stroke-width="2" />
</g>
<polygon points="576.0,1159.7 651.0,1203.0 571.5,1248.9 496.5,1205.6" fill="none" stroke="#1f1f1f" stroke-width="2" />
<polygon points="655.5,1205.6 730.5,1248.9 651.0,1294.8 576.0,1251.5" fill="#fff" stroke="none" />
<clipPath id="cp405"><polygon points="655.5,1205.6 730.5,1248.9 651.0,1294.8 576.0,1251.5"/></clipPath><g clip-path="url(#cp405)">
<polygon points="655.5,1205.6 730.5,1248.9 730.5,1313.6 655.5,1270.3" fill="#ebebeb" stroke="none" />
<polyline points="655.5,1205.6 655.5,1270.3" fill="none" stroke="#1f1f1f" stroke-width="2" />
<polyline points="576.0,1316.2 655.5,1270.3 730.5,1313.6" fill="none" stroke="#1f1f1f" stroke-width="2" />
</g>
<polygon points="655.5,1205.6 730.5,1248.9 651.0,1294.8 576.0,1251.5" fill="none" stroke="#1f1f1f" stroke-width="2" />
<polygon points="735.0,1251.5 810.0,1294.8 730.5,1340.7 655.5,1297.4" fill="#fff" stroke="none" />
<clipPath id="cp406"><polygon points="735.0,1251.5 810.0,1294.8 730.5,1340.7 655.5,1297.4"/></clipPath><g clip-path="url(#cp406)">
<polygon points="735.0,1251.5 810.0,1294.8 810.0,1359.5 735.0,1316.2" fill="#ebebeb" stroke="none" />
<polyline points="735.0,1251.5 735.0,1316.2" fill="none" stroke="#1f1f1f" stroke-width="2" />
<polyline points="655.5,1362.1 735.0,1316.2 810.0,1359.5" fill="none" stroke="#1f1f1f" stroke-width="2" />
</g>
<polygon points="735.0,1251.5 810.0,1294.8 730.5,1340.7 655.5,1297.4" fill="none" stroke="#1f1f1f" stroke-width="2" />
<polygon points="651.0,1300.0 726.0,1343.3 646.5,1389.2 571.5,1345.9" fill="#fff" stroke="none" />
<clipPath id="cp407"><polygon points="651.0,1300.0 726.0,1343.3 646.5,1389.2 571.5,1345.9"/></clipPath><g clip-path="url(#cp407)">
<polygon points="651.0,1300.0 726.0,1343.3 726.0,1408.0 651.0,1364.7" fill="#ebebeb" stroke="none" />
<polyline points="651.0,1300.0 651.0,1364.7" fill="none" stroke="#1f1f1f" stroke-width="2" />
<polyline points="571.5,1410.6 651.0,1364.7 726.0,1408.0" fill="none" stroke="#1f1f1f" stroke-width="2" />
</g>
<polygon points="651.0,1300.0 726.0,1343.3 646.5,1389.2 571.5,1345.9" fill="none" stroke="#1f1f1f" stroke-width="2" />
<polygon points="567.0,1348.5 642.0,1391.8 570.0,1433.4 495.0,1390.1" fill="#fff" stroke="none" />
<clipPath id="cp408"><polygon points="567.0,1348.5 642.0,1391.8 570.0,1433.4 495.0,1390.1"/></clipPath><g clip-path="url(#cp408)">
<polygon points="567.0,1348.5 642.0,1391.8 642.0,1456.5 567.0,1413.2" fill="#ebebeb" stroke="none" />
<polyline points="567.0,1348.5 567.0,1413.2" fill="none" stroke="#1f1f1f" stroke-width="2" />
<polyline points="495.0,1454.8 567.0,1413.2 642.0,1456.5" fill="none" stroke="#1f1f1f" stroke-width="2" />
</g>
<polygon points="567.0,1348.5 642.0,1391.8 570.0,1433.4 495.0,1390.1" fill="none" stroke="#1f1f1f" stroke-width="2" />
<polygon points="492.0,1208.2 646.5,1297.4 490.5,1387.5 336.0,1298.3" fill="#fff" stroke="#1f1f1f" stroke-width="2" />
<polygon points="898.5,1248.9 966.2,1288.0 802.7,1382.4 735.0,1343.3" fill="#fff" stroke="#1f1f1f" stroke-width="2" />
<polygon points="730.5,1345.9 798.2,1385.0 642.2,1475.0 574.5,1436.0" fill="#fff" stroke="none" />
<clipPath id="cp409"><polygon points="730.5,1345.9 798.2,1385.0 642.2,1475.0 574.5,1436.0"/></clipPath><g clip-path="url(#cp409)">
<polygon points="730.5,1345.9 798.2,1385.0 798.2,1449.7 730.5,1410.6" fill="#ebebeb" stroke="none" />
<polyline points="730.5,1345.9 730.5,1410.6" fill="none" stroke="#1f1f1f" stroke-width="2" />
<polyline points="574.5,1500.7 730.5,1410.6 798.2,1449.7" fill="none" stroke="#1f1f1f" stroke-width="2" />
</g>
<polygon points="730.5,1345.9 798.2,1385.0 642.2,1475.0 574.5,1436.0" fill="none" stroke="#1f1f1f" stroke-width="2" />
<clipPath id="cp410"><polygon points="730.5,1345.9 798.2,1385.0 642.2,1475.0 574.5,1436.0"/></clipPath><g clip-path="url(#cp410)">
<linearGradient id="lg411" gradientUnits="userSpaceOnUse" x1="733.0" y1="1389.0" x2="740.5" y2="1402.0"><stop offset="0" stop-color="#fff"/><stop offset="0.6" stop-color="#f4f4f4"/><stop offset="1" stop-color="#dcdcdc"/></linearGradient>
<path d="M733.0,1389.0 L603.0,1464.1 l15.0,8.2 L748.0,1397.2 q-1,-9 -15.0,-8.2 z" fill="url(#lg411)" stroke="#1f1f1f" stroke-width="1.8" />
<linearGradient id="lg412" gradientUnits="userSpaceOnUse" x1="749.0" y1="1398.0" x2="756.5" y2="1411.0"><stop offset="0" stop-color="#fff"/><stop offset="0.6" stop-color="#f4f4f4"/><stop offset="1" stop-color="#dcdcdc"/></linearGradient>
<path d="M749.0,1398.0 L619.0,1473.1 l15.0,8.2 L764.0,1406.2 q-1,-9 -15.0,-8.2 z" fill="url(#lg412)" stroke="#1f1f1f" stroke-width="1.8" />
</g>
<polygon points="730.5,1345.9 798.2,1385.0 642.2,1475.0 574.5,1436.0" fill="none" stroke="#1f1f1f" stroke-width="2" />
<path d="M558.0,1344.5 l14,-7 l11,6 l0,5 l-13,6 l-12,-6 z" fill="#fff" stroke="#1f1f1f" stroke-width="1.6" />
<path d="M570.0,1354.5 l0,-5 l13,-6" fill="none" stroke="#1f1f1f" stroke-width="1.4" />
<path d="M753.0,1360.0 l14,-7 l11,6 l0,5 l-13,6 l-12,-6 z" fill="#fff" stroke="#1f1f1f" stroke-width="1.6" />
<path d="M765.0,1370.0 l0,-5 l13,-6" fill="none" stroke="#1f1f1f" stroke-width="1.4" />
<path d="M945,1347 l0,-24 q1,-5 6,-7 l24,-13 q8,-2 8,6 l0,10 l-12,7 l0,8 z" fill="#fff" stroke="#1f1f1f" stroke-width="2" />
<path d="M951,1316 q9,0 9,14 l11,-6" fill="none" stroke="#1f1f1f" stroke-width="1.6" />
<circle cx="950.5" cy="1339.0" r="1.8" fill="#1f1f1f" stroke="none"/>
<path d="M967,1339 l8,5" fill="none" stroke="#1f1f1f" stroke-width="4.5" />
<circle cx="977.0" cy="1345.0" r="3.2" fill="#1f1f1f" stroke="none"/>
<path d="M981,1330 l8,5" fill="none" stroke="#1f1f1f" stroke-width="4.5" />
<circle cx="991.0" cy="1336.0" r="3.2" fill="#1f1f1f" stroke="none"/>
<path d="M688,1521 l0,-24 q1,-5 6,-7 l24,-13 q8,-2 8,6 l0,10 l-12,7 l0,8 z" fill="#fff" stroke="#1f1f1f" stroke-width="2" />
<path d="M694,1490 q9,0 9,14 l11,-6" fill="none" stroke="#1f1f1f" stroke-width="1.6" />
<circle cx="693.5" cy="1513.0" r="1.8" fill="#1f1f1f" stroke="none"/>
<path d="M710,1513 l8,5" fill="none" stroke="#1f1f1f" stroke-width="4.5" />
<circle cx="720.0" cy="1519.0" r="3.2" fill="#1f1f1f" stroke="none"/>
<path d="M724,1504 l8,5" fill="none" stroke="#1f1f1f" stroke-width="4.5" />
<circle cx="734.0" cy="1510.0" r="3.2" fill="#1f1f1f" stroke="none"/>
<polyline points="670.0,1497.0 688.0,1508.0" fill="none" stroke="#1f1f1f" stroke-width="1.2" />
<polyline points="683.0,1488.0 692.0,1493.0" fill="none" stroke="#1f1f1f" stroke-width="1.2" />
<polyline points="1007.0,1352.0 1019.4,1359.4" fill="none" stroke="#1f1f1f" stroke-width="1.2" />
<path d="M1020,1360 L1071,1388.5" fill="none" stroke="#1f1f1f" stroke-width="4.6" />
<path d="M1023,1361.6 L1070,1388" fill="none" stroke="#fff" stroke-width="2" />
<polygon points="1066.0,1388.0 1072.0,1382.0 1083.0,1386.0 1084.0,1398.0 1078.0,1403.0 1068.0,1399.0" fill="#222" stroke="#1f1f1f" stroke-width="1.5" />
<linearGradient id="lg413" gradientUnits="userSpaceOnUse" x1="1100.0" y1="1392.0" x2="1092.0" y2="1408.0"><stop offset="0" stop-color="#fff"/><stop offset="0.5" stop-color="#eee"/><stop offset="1" stop-color="#fff"/></linearGradient>
<path d="M1082,1384 L1116,1402 q7,5 5,12 q-3,8 -11,6 L1080,1402 z" fill="#fff" stroke="#1f1f1f" stroke-width="2.4" />
<polyline points="1084.0,1390.0 1118.0,1408.0" fill="none" stroke="#1f1f1f" stroke-width="2.4" />
<polyline points="1082.0,1397.0 1114.0,1414.0" fill="none" stroke="#1f1f1f" stroke-width="1.6" />
<path d="M1116,1402 q-7,6 -6,18" fill="none" stroke="#1f1f1f" stroke-width="1.8" />
<path d="M1040,1358 q-12,2 -11,17 q2,14 14,15" fill="none" stroke="#1f1f1f" stroke-width="1.6" />
<path d="M1037,1362 q-8,3 -7,13 q2,11 11,12" fill="none" stroke="#1f1f1f" stroke-width="1.6" />
<path d="M1033,1359 l7,-2 l-1,7" fill="none" stroke="#1f1f1f" stroke-width="1.6" />
<path d="M1052,1362 q-12,4 -11,20 q2,11 14,9 q10,-3 12,-12" fill="none" stroke="#1f1f1f" stroke-width="1.6" />
<path d="M1052,1362 q9,-1 5,12 q-4,9 -10,11" fill="none" stroke="#1f1f1f" stroke-width="1.6" />
<path d="M1062,1370 q6,2 3,11" fill="none" stroke="#1f1f1f" stroke-width="1.6" />
</g>

<g id="fig4">
<clipPath id="cp601"><polygon points="1253.6,1012.3 2077.0,1012.3 2077.0,1626.0 1253.6,1626.0"/></clipPath><g clip-path="url(#cp601)">
<rect x="2062.8" y="1012.3" width="14.2" height="613.7" fill="#c9c9c9" stroke="#1f1f1f" stroke-width="1.6"/>
<polyline points="1802.5,1519.3 2036.5,1654.3" fill="none" stroke="#1f1f1f" stroke-width="2" />
<polygon points="1625.5,1380.0 1675.0,1380.0 1675.0,1445.0 1625.5,1473.8" fill="#c9c9c9" stroke="none" />
<polyline points="1675.0,1400.0 1675.0,1445.0 1625.5,1473.8" fill="none" stroke="#1f1f1f" stroke-width="2" />
<polyline points="1675.0,1445.0 1760.0,1494.0" fill="none" stroke="#1f1f1f" stroke-width="2" />
<polygon points="1812.0,1180.3 2044.0,1314.2 2044.0,1330.2 2036.5,1338.7 1804.5,1196.8 1804.5,1184.8" fill="#fff" stroke="none" />
<polyline points="1812.0,1180.3 2044.0,1314.2 2044.0,1330.2" fill="none" stroke="#1f1f1f" stroke-width="2" />
<polyline points="1804.5,1184.8 2036.5,1318.7 2036.5,1332.7" fill="none" stroke="#1f1f1f" stroke-width="2" />
<polyline points="2036.5,1318.7 2044.0,1314.2" fill="none" stroke="#1f1f1f" stroke-width="2" />
<polyline points="1693.8,1130.5 2020.8,1319.3" fill="none" stroke="#1f1f1f" stroke-width="2" />
<polyline points="1861.0,1297.0 1968.4,1360.2" fill="none" stroke="#1f1f1f" stroke-width="2" />
<linearGradient id="lg602" gradientUnits="userSpaceOnUse" x1="1820.0" y1="1251.0" x2="1826.0" y2="1261.4"><stop offset="0" stop-color="#fff"/><stop offset="0.5" stop-color="#ececec"/><stop offset="1" stop-color="#dcdcdc"/></linearGradient>
<polygon points="1312.8,1162.1 1645.0,1353.4 1645.0,1422.4 1312.8,1231.1" fill="#f6f6f6" stroke="#1f1f1f" stroke-width="2" />
<polygon points="1645.0,1353.4 1995.0,1150.8 1995.0,1219.8 1645.0,1422.4" fill="url(#lg602)" stroke="#1f1f1f" stroke-width="2" />
<polygon points="1662.8,959.5 1995.0,1150.8 1645.0,1353.4 1312.8,1162.1" fill="#fff" stroke="#1f1f1f" stroke-width="2" />
<polygon points="1662.8,968.5 1979.4,1150.8 1645.0,1344.4 1328.4,1162.1" fill="none" stroke="#1f1f1f" stroke-width="2.6" />
<polygon points="1662.8,974.5 1969.0,1151.3 1645.0,1338.3 1338.8,1161.6" fill="#fff" stroke="#1f1f1f" stroke-width="1.6" />
<polygon points="1662.8,974.5 1737.8,1017.8 1658.3,1063.7 1583.3,1020.4" fill="#fff" stroke="none" />
<clipPath id="cp603"><polygon points="1662.8,974.5 1737.8,1017.8 1658.3,1063.7 1583.3,1020.4"/></clipPath><g clip-path="url(#cp603)">
<polygon points="1662.8,974.5 1583.3,1020.4 1583.3,1085.1 1662.8,1039.2" fill="#dcdcdc" stroke="none" />
<polyline points="1662.8,974.5 1662.8,1039.2" fill="none" stroke="#1f1f1f" stroke-width="2" />
<polyline points="1583.3,1085.1 1662.8,1039.2 1737.8,1082.5" fill="none" stroke="#1f1f1f" stroke-width="2" />
</g>
<polygon points="1662.8,974.5 1737.8,1017.8 1658.3,1063.7 1583.3,1020.4" fill="none" stroke="#1f1f1f" stroke-width="2" />
<polygon points="1742.3,1020.4 1817.3,1063.7 1737.8,1109.6 1662.8,1066.3" fill="#fff" stroke="none" />
<clipPath id="cp604"><polygon points="1742.3,1020.4 1817.3,1063.7 1737.8,1109.6 1662.8,1066.3"/></clipPath><g clip-path="url(#cp604)">
<polygon points="1742.3,1020.4 1662.8,1066.3 1662.8,1131.0 1742.3,1085.1" fill="#dcdcdc" stroke="none" />
<polyline points="1742.3,1020.4 1742.3,1085.1" fill="none" stroke="#1f1f1f" stroke-width="2" />
<polyline points="1662.8,1131.0 1742.3,1085.1 1817.3,1128.4" fill="none" stroke="#1f1f1f" stroke-width="2" />
</g>
<polygon points="1742.3,1020.4 1817.3,1063.7 1737.8,1109.6 1662.8,1066.3" fill="none" stroke="#1f1f1f" stroke-width="2" />
<polygon points="1821.8,1066.3 1896.8,1109.6 1817.3,1155.5 1742.3,1112.2" fill="#fff" stroke="none" />
<clipPath id="cp605"><polygon points="1821.8,1066.3 1896.8,1109.6 1817.3,1155.5 1742.3,1112.2"/></clipPath><g clip-path="url(#cp605)">
<polygon points="1821.8,1066.3 1742.3,1112.2 1742.3,1176.9 1821.8,1131.0" fill="#dcdcdc" stroke="none" />
<polyline points="1821.8,1066.3 1821.8,1131.0" fill="none" stroke="#1f1f1f" stroke-width="2" />
<polyline points="1742.3,1176.9 1821.8,1131.0 1896.8,1174.3" fill="none" stroke="#1f1f1f" stroke-width="2" />
</g>
<polygon points="1821.8,1066.3 1896.8,1109.6 1817.3,1155.5 1742.3,1112.2" fill="none" stroke="#1f1f1f" stroke-width="2" />
<polygon points="1578.8,1023.0 1653.8,1066.3 1574.3,1112.2 1499.3,1068.9" fill="#fff" stroke="none" />
<clipPath id="cp606"><polygon points="1578.8,1023.0 1653.8,1066.3 1574.3,1112.2 1499.3,1068.9"/></clipPath><g clip-path="url(#cp606)">
<polygon points="1578.8,1023.0 1499.3,1068.9 1499.3,1133.6 1578.8,1087.7" fill="#dcdcdc" stroke="none" />
<polyline points="1578.8,1023.0 1578.8,1087.7" fill="none" stroke="#1f1f1f" stroke-width="2" />
<polyline points="1499.3,1133.6 1578.8,1087.7 1653.8,1131.0" fill="none" stroke="#1f1f1f" stroke-width="2" />
</g>
<polygon points="1578.8,1023.0 1653.8,1066.3 1574.3,1112.2 1499.3,1068.9" fill="none" stroke="#1f1f1f" stroke-width="2" />
<polygon points="1658.3,1068.9 1733.3,1112.2 1653.8,1158.1 1578.8,1114.8" fill="#fff" stroke="none" />
<clipPath id="cp607"><polygon points="1658.3,1068.9 1733.3,1112.2 1653.8,1158.1 1578.8,1114.8"/></clipPath><g clip-path="url(#cp607)">
<polygon points="1658.3,1068.9 1578.8,1114.8 1578.8,1179.5 1658.3,1133.6" fill="#dcdcdc" stroke="none" />
<polyline points="1658.3,1068.9 1658.3,1133.6" fill="none" stroke="#1f1f1f" stroke-width="2" />
<polyline points="1578.8,1179.5 1658.3,1133.6 1733.3,1176.9" fill="none" stroke="#1f1f1f" stroke-width="2" />
</g>
<polygon points="1658.3,1068.9 1733.3,1112.2 1653.8,1158.1 1578.8,1114.8" fill="none" stroke="#1f1f1f" stroke-width="2" />
<polygon points="1737.8,1114.8 1812.8,1158.1 1733.3,1204.0 1658.3,1160.7" fill="#fff" stroke="none" />
<clipPath id="cp608"><polygon points="1737.8,1114.8 1812.8,1158.1 1733.3,1204.0 1658.3,1160.7"/></clipPath><g clip-path="url(#cp608)">
<polygon points="1737.8,1114.8 1658.3,1160.7 1658.3,1225.4 1737.8,1179.5" fill="#dcdcdc" stroke="none" />
<polyline points="1737.8,1114.8 1737.8,1179.5" fill="none" stroke="#1f1f1f" stroke-width="2" />
<polyline points="1658.3,1225.4 1737.8,1179.5 1812.8,1222.8" fill="none" stroke="#1f1f1f" stroke-width="2" />
</g>
<polygon points="1737.8,1114.8 1812.8,1158.1 1733.3,1204.0 1658.3,1160.7" fill="none" stroke="#1f1f1f" stroke-width="2" />
<polygon points="1653.8,1163.3 1728.8,1206.6 1649.3,1252.5 1574.3,1209.2" fill="#fff" stroke="none" />
<clipPath id="cp609"><polygon points="1653.8,1163.3 1728.8,1206.6 1649.3,1252.5 1574.3,1209.2"/></clipPath><g clip-path="url(#cp609)">
<polygon points="1653.8,1163.3 1574.3,1209.2 1574.3,1273.9 1653.8,1228.0" fill="#dcdcdc" stroke="none" />
<polyline points="1653.8,1163.3 1653.8,1228.0" fill="none" stroke="#1f1f1f" stroke-width="2" />
<polyline points="1574.3,1273.9 1653.8,1228.0 1728.8,1271.3" fill="none" stroke="#1f1f1f" stroke-width="2" />
</g>
<polygon points="1653.8,1163.3 1728.8,1206.6 1649.3,1252.5 1574.3,1209.2" fill="none" stroke="#1f1f1f" stroke-width="2" />
<polygon points="1569.8,1211.8 1644.8,1255.1 1572.8,1296.7 1497.8,1253.4" fill="#fff" stroke="none" />
<clipPath id="cp610"><polygon points="1569.8,1211.8 1644.8,1255.1 1572.8,1296.7 1497.8,1253.4"/></clipPath><g clip-path="url(#cp610)">
<polygon points="1569.8,1211.8 1497.8,1253.4 1497.8,1318.1 1569.8,1276.5" fill="#dcdcdc" stroke="none" />
<polyline points="1569.8,1211.8 1569.8,1276.5" fill="none" stroke="#1f1f1f" stroke-width="2" />
<polyline points="1497.8,1318.1 1569.8,1276.5 1644.8,1319.8" fill="none" stroke="#1f1f1f" stroke-width="2" />
</g>
<polygon points="1569.8,1211.8 1644.8,1255.1 1572.8,1296.7 1497.8,1253.4" fill="none" stroke="#1f1f1f" stroke-width="2" />
<polygon points="1494.8,1071.5 1649.3,1160.7 1493.3,1250.8 1338.8,1161.6" fill="#fff" stroke="#1f1f1f" stroke-width="2" />
<polygon points="1901.3,1112.2 1969.0,1151.3 1805.5,1245.7 1737.8,1206.6" fill="#fff" stroke="#1f1f1f" stroke-width="2" />
<polygon points="1733.3,1209.2 1801.0,1248.3 1645.0,1338.3 1577.3,1299.3" fill="#fff" stroke="none" />
<clipPath id="cp611"><polygon points="1733.3,1209.2 1801.0,1248.3 1645.0,1338.3 1577.3,1299.3"/></clipPath><g clip-path="url(#cp611)">
<polygon points="1733.3,1209.2 1577.3,1299.3 1577.3,1364.0 1733.3,1273.9" fill="#dcdcdc" stroke="none" />
<polyline points="1733.3,1209.2 1733.3,1273.9" fill="none" stroke="#1f1f1f" stroke-width="2" />
<polyline points="1577.3,1364.0 1733.3,1273.9 1801.0,1313.0" fill="none" stroke="#1f1f1f" stroke-width="2" />
</g>
<polygon points="1733.3,1209.2 1801.0,1248.3 1645.0,1338.3 1577.3,1299.3" fill="none" stroke="#1f1f1f" stroke-width="2" />
<clipPath id="cp612"><polygon points="1733.3,1209.2 1801.0,1248.3 1645.0,1338.3 1577.3,1299.3"/></clipPath><g clip-path="url(#cp612)">
<linearGradient id="lg613" gradientUnits="userSpaceOnUse" x1="1736.0" y1="1252.0" x2="1743.5" y2="1265.0"><stop offset="0" stop-color="#fff"/><stop offset="0.6" stop-color="#f0f0f0"/><stop offset="1" stop-color="#d6d6d6"/></linearGradient>
<path d="M1736.0,1252.0 L1606.0,1327.1 l15.0,8.2 L1751.0,1260.2 q-1,-9 -15.0,-8.2 z" fill="url(#lg613)" stroke="#1f1f1f" stroke-width="1.6" />
<linearGradient id="lg614" gradientUnits="userSpaceOnUse" x1="1752.0" y1="1261.0" x2="1759.5" y2="1274.0"><stop offset="0" stop-color="#fff"/><stop offset="0.6" stop-color="#f0f0f0"/><stop offset="1" stop-color="#d6d6d6"/></linearGradient>
<path d="M1752.0,1261.0 L1622.0,1336.1 l15.0,8.2 L1767.0,1269.2 q-1,-9 -15.0,-8.2 z" fill="url(#lg614)" stroke="#1f1f1f" stroke-width="1.6" />
</g>
<polygon points="1733.3,1209.2 1801.0,1248.3 1645.0,1338.3 1577.3,1299.3" fill="none" stroke="#1f1f1f" stroke-width="2" />
<path d="M1756.0,1224.0 l14,-7 l11,6 l0,5 l-13,6 l-12,-6 z" fill="#fff" stroke="#1f1f1f" stroke-width="1.6" />
<path d="M1768.0,1234.0 l0,-5 l13,-6" fill="none" stroke="#1f1f1f" stroke-width="1.4" />
<path d="M1948,1210 l0,-24 q1,-5 6,-7 l24,-13 q8,-2 8,6 l0,10 l-12,7 l0,8 z" fill="#fff" stroke="#1f1f1f" stroke-width="2" />
<path d="M1954,1179 q9,0 9,14 l11,-6" fill="none" stroke="#1f1f1f" stroke-width="1.6" />
<circle cx="1953.5" cy="1202.0" r="1.8" fill="#1f1f1f" stroke="none"/>
<path d="M1669,1371 l0,-24 q1,-5 6,-7 l24,-13 q8,-2 8,6 l0,10 l-12,7 l0,8 z" fill="#fff" stroke="#1f1f1f" stroke-width="2" />
<path d="M1675,1340 q9,0 9,14 l11,-6" fill="none" stroke="#1f1f1f" stroke-width="1.6" />
<circle cx="1674.5" cy="1363.0" r="1.8" fill="#1f1f1f" stroke="none"/>
<rect x="1253.6" y="1012.3" width="358.4000000000001" height="613.7" fill="#fff" stroke="none"/>
<polygon points="1612.0,1058.0 1625.5,1058.0 1625.5,1640.0 1612.0,1640.0" fill="#c9c9c9" stroke="#1f1f1f" stroke-width="2" />
<polygon points="1517.6,1012.3 1612.0,1066.2 1706.5,1012.3" fill="#fff" stroke="none" />
<polygon points="1612.0,1050.0 1678.2,1012.3 1706.5,1012.3 1612.0,1066.2" fill="#c9c9c9" stroke="none" />
<polyline points="1546.0,1012.3 1612.0,1050.0 1678.2,1012.3" fill="none" stroke="#1f1f1f" stroke-width="2" />
<polyline points="1517.6,1012.3 1612.0,1066.2 1706.5,1012.3" fill="none" stroke="#1f1f1f" stroke-width="2" />
<polyline points="1612.0,1050.0 1612.0,1066.2" fill="none" stroke="#1f1f1f" stroke-width="2" />
<polygon points="1625.5,1540.0 1635.0,1541.8 1658.8,1555.5 1637.5,1566.8 1625.5,1560.0" fill="#fff" stroke="#1f1f1f" stroke-width="2" />
<polygon points="1637.5,1566.8 1658.8,1555.5 1658.8,1602.0 1637.5,1614.0" fill="#e4e4e4" stroke="#1f1f1f" stroke-width="2" />
<polygon points="1626.0,1590.0 1634.0,1595.0 1634.0,1604.0 1630.0,1602.0 1630.0,1607.0 1626.0,1605.0" fill="#fff" stroke="#1f1f1f" stroke-width="1.6" />
<polygon points="2003.3,1341.2 1650.3,1545.0 1660.0,1553.0 2015.5,1347.8" fill="#fff" stroke="none" />
<linearGradient id="lg615" gradientUnits="userSpaceOnUse" x1="1850.0" y1="1443.3" x2="1856.0" y2="1453.7"><stop offset="0" stop-color="#fff"/><stop offset="0.5" stop-color="#ececec"/><stop offset="1" stop-color="#dcdcdc"/></linearGradient>
<polygon points="2015.5,1347.8 2021.0,1354.3 2016.5,1394.9 1664.5,1598.1 1660.0,1553.0" fill="url(#lg615)" stroke="none" />
<polyline points="2003.3,1341.2 1650.3,1545.0" fill="none" stroke="#1f1f1f" stroke-width="2" />
<polyline points="2015.5,1347.8 1660.0,1553.0" fill="none" stroke="#1f1f1f" stroke-width="2" />
<polyline points="2016.5,1394.9 1664.5,1598.1" fill="none" stroke="#1f1f1f" stroke-width="2" />
<path d="M1660.0,1553.0 q5,1 6,8 L1664.5,1598.1" fill="none" stroke="#1f1f1f" stroke-width="1.6" />
<path d="M1657.0,1554.5 q5,1 6,8 l0,40" fill="none" stroke="#1f1f1f" stroke-width="1.6" />
<path d="M2003.3,1341.2 q4,-3 6,1 q2,3 1,7" fill="none" stroke="#1f1f1f" stroke-width="1.6" />
<path d="M2006.5,1339.3 q4,-3 7,1 q2,3 1,7" fill="none" stroke="#1f1f1f" stroke-width="1.6" />
<path d="M2012.0,1347.3 q6,0 6.5,8 L2018.5,1395.3" fill="none" stroke="#1f1f1f" stroke-width="1.6" />
<path d="M2015.0,1345.8 q6,0 6.5,8 L2021.5,1394.3" fill="none" stroke="#1f1f1f" stroke-width="1.6" />
<polygon points="1998.6,1331.8 2020.3,1320.5 2045.7,1332.7 2045.7,1379.8 2023.0,1391.1 2021.5,1394.3 2021.5,1354.3 2016.0,1345.3 2008.0,1341.3 2001.0,1336.3" fill="#fff" stroke="none" />
<polygon points="2023.0,1345.0 2045.7,1332.7 2045.7,1379.8 2023.0,1391.1" fill="#e0e0e0" stroke="#1f1f1f" stroke-width="2" />
<polygon points="1998.6,1331.8 2020.3,1320.5 2045.7,1332.7 2023.0,1345.0" fill="#fff" stroke="#1f1f1f" stroke-width="2" />
<polyline points="1998.6,1331.8 1998.6,1340.3" fill="none" stroke="#1f1f1f" stroke-width="2" />
<polygon points="1859.0,1200.0 1867.5,1200.0 1867.5,1250.0 1872.0,1248.0 1862.5,1273.5 1853.5,1247.0 1859.0,1250.0" fill="#fff" stroke="#1f1f1f" stroke-width="1.6" />
<polyline points="1866.5,1200.0 1866.5,1250.0" fill="none" stroke="#1f1f1f" stroke-width="3.4" />
</g>
<rect x="1253.6" y="1012.3" width="823.4000000000001" height="613.7" fill="none" stroke="#1f1f1f" stroke-width="1.6"/>
</g>

<g id="fig5">
<clipPath id="cp801"><polygon points="269.0,1711.2 1027.5,1711.2 1027.5,2325.5 269.0,2325.5"/></clipPath><g clip-path="url(#cp801)">
<polygon points="575.0,1711.2 626.2,1711.2 626.2,1800.0 575.0,1830.0" fill="#c9c9c9" stroke="none" />
<polyline points="626.2,1711.2 626.2,1772.0" fill="none" stroke="#1f1f1f" stroke-width="2" />
<polyline points="751.7,2163.9 1013.4,2314.0" fill="none" stroke="#1f1f1f" stroke-width="2" />
<polygon points="1013.4,1711.2 1027.5,1711.2 1027.5,2306.4 1013.4,2314.0" fill="#c9c9c9" stroke="#1f1f1f" stroke-width="1.6" />
<polygon points="1013.4,2314.0 1027.5,2306.4 1027.5,2322.4 1022.6,2325.5 993.3,2325.5" fill="#c9c9c9" stroke="#1f1f1f" stroke-width="1.6" />
<g transform="translate(-1050,1348.3)">
<polygon points="1804.5,480.5 1812.0,476.0 2044.0,609.9 2044.0,625.9 2036.5,634.4 1804.5,492.5" fill="#fff" stroke="none" />
<polyline points="1804.5,492.5 1804.5,480.5 1812.0,476.0 2044.0,609.9 2044.0,625.9" fill="none" stroke="#1f1f1f" stroke-width="2" />
<polyline points="1804.5,480.5 2036.5,614.4" fill="none" stroke="#1f1f1f" stroke-width="2" />
<polyline points="1804.5,492.5 2032.5,624.1" fill="none" stroke="#1f1f1f" stroke-width="2" />
<polyline points="2036.5,614.4 2044.0,609.9" fill="none" stroke="#1f1f1f" stroke-width="2" />
<polygon points="1693.8,426.2 2020.8,615.0 1999.5,625.9 1677.5,440.0" fill="#fff" stroke="none" />
<polyline points="1693.8,426.2 2020.8,615.0" fill="none" stroke="#1f1f1f" stroke-width="2" />
<polyline points="1677.5,440.0 1999.5,625.9" fill="none" stroke="#1f1f1f" stroke-width="2" />
<polygon points="1290.0,635.0 1647.5,428.8 1672.0,440.0 1672.0,470.0 1300.0,670.0" fill="#fff" stroke="none" />
<polyline points="1290.0,635.0 1647.5,428.8" fill="none" stroke="#1f1f1f" stroke-width="2" />
<polyline points="1290.0,643.0 1647.5,436.8" fill="none" stroke="#1f1f1f" stroke-width="2" />
<polyline points="1290.0,651.0 1647.5,444.8" fill="none" stroke="#1f1f1f" stroke-width="1.6" />
<polygon points="1663.8,445.4 1992.3,635.1 1642.5,837.1 1314.0,647.4" fill="#fff" stroke="#1f1f1f" stroke-width="2.5" />
<polygon points="1663.8,451.9 1981.2,635.1 1642.5,830.7 1325.1,647.4" fill="none" stroke="#1f1f1f" stroke-width="2.8" />
<polygon points="1663.8,458.8 1738.8,502.1 1659.2,548.0 1584.2,504.6" fill="#fff" stroke="none" />
<clipPath id="cp802"><polygon points="1663.8,458.8 1738.8,502.1 1659.2,548.0 1584.2,504.6"/></clipPath><g clip-path="url(#cp802)">
<polygon points="1663.8,458.8 1584.2,504.6 1584.2,569.3 1663.8,523.5" fill="#dcdcdc" stroke="none" />
<polyline points="1663.8,458.8 1663.8,523.5" fill="none" stroke="#1f1f1f" stroke-width="2" />
<polyline points="1584.2,569.3 1663.8,523.5 1738.8,566.8" fill="none" stroke="#1f1f1f" stroke-width="2" />
</g>
<polygon points="1663.8,458.8 1738.8,502.1 1659.2,548.0 1584.2,504.6" fill="none" stroke="#1f1f1f" stroke-width="2" />
<polygon points="1743.2,504.6 1818.2,548.0 1738.8,593.8 1663.8,550.5" fill="#fff" stroke="none" />
<clipPath id="cp803"><polygon points="1743.2,504.6 1818.2,548.0 1738.8,593.8 1663.8,550.5"/></clipPath><g clip-path="url(#cp803)">
<polygon points="1743.2,504.6 1663.8,550.5 1663.8,615.2 1743.2,569.3" fill="#dcdcdc" stroke="none" />
<polyline points="1743.2,504.6 1743.2,569.3" fill="none" stroke="#1f1f1f" stroke-width="2" />
<polyline points="1663.8,615.2 1743.2,569.3 1818.2,612.7" fill="none" stroke="#1f1f1f" stroke-width="2" />
</g>
<polygon points="1743.2,504.6 1818.2,548.0 1738.8,593.8 1663.8,550.5" fill="none" stroke="#1f1f1f" stroke-width="2" />
<polygon points="1822.8,550.5 1897.8,593.8 1818.2,639.7 1743.2,596.4" fill="#fff" stroke="none" />
<clipPath id="cp804"><polygon points="1822.8,550.5 1897.8,593.8 1818.2,639.7 1743.2,596.4"/></clipPath><g clip-path="url(#cp804)">
<polygon points="1822.8,550.5 1743.2,596.4 1743.2,661.1 1822.8,615.2" fill="#dcdcdc" stroke="none" />
<polyline points="1822.8,550.5 1822.8,615.2" fill="none" stroke="#1f1f1f" stroke-width="2" />
<polyline points="1743.2,661.1 1822.8,615.2 1897.8,658.5" fill="none" stroke="#1f1f1f" stroke-width="2" />
</g>
<polygon points="1822.8,550.5 1897.8,593.8 1818.2,639.7 1743.2,596.4" fill="none" stroke="#1f1f1f" stroke-width="2" />
<polygon points="1579.8,507.2 1654.8,550.5 1575.2,596.4 1500.2,553.1" fill="#fff" stroke="none" />
<clipPath id="cp805"><polygon points="1579.8,507.2 1654.8,550.5 1575.2,596.4 1500.2,553.1"/></clipPath><g clip-path="url(#cp805)">
<polygon points="1579.8,507.2 1500.2,553.1 1500.2,617.8 1579.8,571.9" fill="#dcdcdc" stroke="none" />
<polyline points="1579.8,507.2 1579.8,571.9" fill="none" stroke="#1f1f1f" stroke-width="2" />
<polyline points="1500.2,617.8 1579.8,571.9 1654.8,615.2" fill="none" stroke="#1f1f1f" stroke-width="2" />
</g>
<polygon points="1579.8,507.2 1654.8,550.5 1575.2,596.4 1500.2,553.1" fill="none" stroke="#1f1f1f" stroke-width="2" />
<polygon points="1659.2,553.1 1734.2,596.4 1654.8,642.3 1579.8,599.0" fill="#fff" stroke="none" />
<clipPath id="cp806"><polygon points="1659.2,553.1 1734.2,596.4 1654.8,642.3 1579.8,599.0"/></clipPath><g clip-path="url(#cp806)">
<polygon points="1659.2,553.1 1579.8,599.0 1579.8,663.7 1659.2,617.8" fill="#dcdcdc" stroke="none" />
<polyline points="1659.2,553.1 1659.2,617.8" fill="none" stroke="#1f1f1f" stroke-width="2" />
<polyline points="1579.8,663.7 1659.2,617.8 1734.2,661.1" fill="none" stroke="#1f1f1f" stroke-width="2" />
</g>
<polygon points="1659.2,553.1 1734.2,596.4 1654.8,642.3 1579.8,599.0" fill="none" stroke="#1f1f1f" stroke-width="2" />
<polygon points="1738.8,599.0 1813.8,642.3 1734.2,688.2 1659.2,644.9" fill="#fff" stroke="none" />
<clipPath id="cp807"><polygon points="1738.8,599.0 1813.8,642.3 1734.2,688.2 1659.2,644.9"/></clipPath><g clip-path="url(#cp807)">
<polygon points="1738.8,599.0 1659.2,644.9 1659.2,709.6 1738.8,663.7" fill="#dcdcdc" stroke="none" />
<polyline points="1738.8,599.0 1738.8,663.7" fill="none" stroke="#1f1f1f" stroke-width="2" />
<polyline points="1659.2,709.6 1738.8,663.7 1813.8,707.0" fill="none" stroke="#1f1f1f" stroke-width="2" />
</g>
<polygon points="1738.8,599.0 1813.8,642.3 1734.2,688.2 1659.2,644.9" fill="none" stroke="#1f1f1f" stroke-width="2" />
<polygon points="1654.8,647.5 1729.8,690.8 1650.2,736.7 1575.2,693.4" fill="#fff" stroke="none" />
<clipPath id="cp808"><polygon points="1654.8,647.5 1729.8,690.8 1650.2,736.7 1575.2,693.4"/></clipPath><g clip-path="url(#cp808)">
<polygon points="1654.8,647.5 1575.2,693.4 1575.2,758.1 1654.8,712.2" fill="#dcdcdc" stroke="none" />
<polyline points="1654.8,647.5 1654.8,712.2" fill="none" stroke="#1f1f1f" stroke-width="2" />
<polyline points="1575.2,758.1 1654.8,712.2 1729.8,755.5" fill="none" stroke="#1f1f1f" stroke-width="2" />
</g>
<polygon points="1654.8,647.5 1729.8,690.8 1650.2,736.7 1575.2,693.4" fill="none" stroke="#1f1f1f" stroke-width="2" />
<polygon points="1570.8,696.0 1645.8,739.3 1566.2,785.2 1491.2,741.9" fill="#fff" stroke="none" />
<clipPath id="cp809"><polygon points="1570.8,696.0 1645.8,739.3 1566.2,785.2 1491.2,741.9"/></clipPath><g clip-path="url(#cp809)">
<polygon points="1570.8,696.0 1491.2,741.9 1491.2,806.6 1570.8,760.7" fill="#dcdcdc" stroke="none" />
<polyline points="1570.8,696.0 1570.8,760.7" fill="none" stroke="#1f1f1f" stroke-width="2" />
<polyline points="1491.2,806.6 1570.8,760.7 1645.8,804.0" fill="none" stroke="#1f1f1f" stroke-width="2" />
</g>
<polygon points="1570.8,696.0 1645.8,739.3 1566.2,785.2 1491.2,741.9" fill="none" stroke="#1f1f1f" stroke-width="2" />
<polygon points="1495.8,555.7 1650.2,644.9 1491.5,736.6 1337.0,647.4" fill="#fff" stroke="#1f1f1f" stroke-width="2" />
<polygon points="1902.2,596.4 1969.3,635.2 1805.8,729.6 1738.8,690.8" fill="#fff" stroke="#1f1f1f" stroke-width="2" />
<polygon points="1734.2,693.4 1801.3,732.2 1642.6,823.8 1575.5,785.1" fill="#fff" stroke="none" />
<clipPath id="cp810"><polygon points="1734.2,693.4 1801.3,732.2 1642.6,823.8 1575.5,785.1"/></clipPath><g clip-path="url(#cp810)">
<polygon points="1734.2,693.4 1575.5,785.1 1575.5,849.8 1734.2,758.1" fill="#dcdcdc" stroke="none" />
<polyline points="1734.2,693.4 1734.2,758.1" fill="none" stroke="#1f1f1f" stroke-width="2" />
<polyline points="1575.5,849.8 1734.2,758.1 1801.3,796.9" fill="none" stroke="#1f1f1f" stroke-width="2" />
</g>
<polygon points="1734.2,693.4 1801.3,732.2 1642.6,823.8 1575.5,785.1" fill="none" stroke="#1f1f1f" stroke-width="2" />
<clipPath id="cp811"><polygon points="1734.2,693.4 1801.3,732.2 1642.6,823.8 1575.5,785.1"/></clipPath><g clip-path="url(#cp811)">
<linearGradient id="lg812" gradientUnits="userSpaceOnUse" x1="1735.0" y1="735.0" x2="1742.5" y2="748.0"><stop offset="0" stop-color="#fff"/><stop offset="0.6" stop-color="#f0f0f0"/><stop offset="1" stop-color="#d6d6d6"/></linearGradient>
<path d="M1735.0,735.0 L1617.0,803.1 q6,10 15.0,8.2 L1750.0,743.2 q-1,-9 -15.0,-8.2 z" fill="url(#lg812)" stroke="#1f1f1f" stroke-width="1.8" />
<linearGradient id="lg813" gradientUnits="userSpaceOnUse" x1="1751.0" y1="745.0" x2="1758.5" y2="758.0"><stop offset="0" stop-color="#fff"/><stop offset="0.6" stop-color="#f0f0f0"/><stop offset="1" stop-color="#d6d6d6"/></linearGradient>
<path d="M1751.0,745.0 L1633.0,813.1 q6,10 15.0,8.2 L1766.0,753.2 q-1,-9 -15.0,-8.2 z" fill="url(#lg813)" stroke="#1f1f1f" stroke-width="1.8" />
</g>
<polygon points="1734.2,693.4 1801.3,732.2 1642.6,823.8 1575.5,785.1" fill="none" stroke="#1f1f1f" stroke-width="2" />
<path d="M1561.8,692.0 l14,-7 l11,6 l0,5 l-13,6 l-12,-6 z" fill="#fff" stroke="#1f1f1f" stroke-width="1.6" />
<path d="M1573.8,702.0 l0,-5 l13,-6" fill="none" stroke="#1f1f1f" stroke-width="1.4" />
<path d="M1751.0,705.0 l14,-7 l11,6 l0,5 l-13,6 l-12,-6 z" fill="#fff" stroke="#1f1f1f" stroke-width="1.6" />
<path d="M1763.0,715.0 l0,-5 l13,-6" fill="none" stroke="#1f1f1f" stroke-width="1.4" />
<path d="M1323.0,629.0 q-1,-6 6,-7 l28.0,-16.2 l7,4 l-28.0,16.2 q-5,0 -6,6 z" fill="#fff" stroke="#1f1f1f" stroke-width="1.6" />
<path d="M1329.0,622.0 q5,2 7,7" fill="none" stroke="#1f1f1f" stroke-width="1.4" />
<path d="M1603.0,468.0 q-1,-6 6,-7 l28.0,-16.2 l7,4 l-28.0,16.2 q-5,0 -6,6 z" fill="#fff" stroke="#1f1f1f" stroke-width="1.6" />
<path d="M1609.0,461.0 q5,2 7,7" fill="none" stroke="#1f1f1f" stroke-width="1.4" />
<polygon points="1647.5,428.8 1670.0,413.8 1693.8,426.2 1672.5,440.0 1670.0,443.0 1666.0,452.0 1655.0,446.0 1650.0,438.0" fill="#fff" stroke="none" />
<path d="M1647.5,428.8 L1670,413.8 L1693.8,426.2" fill="none" stroke="#1f1f1f" stroke-width="2" />
<path d="M1693.8,426.6 L1672.5,440.4 q-3,2 -3,8" fill="none" stroke="#1f1f1f" stroke-width="2.6" />
<path d="M1647.5,428.8 q-5,1 -4,6 q1,4 6,6" fill="none" stroke="#1f1f1f" stroke-width="1.6" />
<path d="M1650.5,427 q5,1 5.5,7 q0,3 -2.5,6" fill="none" stroke="#1f1f1f" stroke-width="1.6" />
<path d="M1656,438 q6,-1 9,4 q2,4 1,9" fill="none" stroke="#1f1f1f" stroke-width="1.6" />
<path d="M1659,436 q8,-1 11,5 q1,3 0.5,7" fill="none" stroke="#1f1f1f" stroke-width="1.6" />
<polygon points="1262.5,647.5 1287.5,633.8 1310.0,647.5 1285.0,661.2 1285.0,687.5 1262.5,673.8" fill="#fff" stroke="none" />
<polygon points="1306.2,650.0 1636.2,840.5 1612.5,876.6 1285.0,687.5 1285.0,661.2" fill="#fff" stroke="none" />
<polygon points="1314.0,647.4 1642.5,837.1 1613.8,851.0 1285.0,661.2 1310.0,647.5" fill="#fff" stroke="none" />
<polyline points="1314.0,647.4 1642.5,837.1" fill="none" stroke="#1f1f1f" stroke-width="2.4" />
<polyline points="1285.0,661.2 1262.5,647.5 1287.5,633.8" fill="none" stroke="#1f1f1f" stroke-width="2" />
<polyline points="1262.5,647.5 1262.5,673.8 1285.0,687.5 1285.0,661.2" fill="none" stroke="#1f1f1f" stroke-width="2" />
<polyline points="1285.0,661.2 1310.0,647.5" fill="none" stroke="#1f1f1f" stroke-width="2" />
<polyline points="1285.0,661.2 1613.8,851.0" fill="none" stroke="#1f1f1f" stroke-width="2" />
<polyline points="1285.0,687.5 1612.5,876.6" fill="none" stroke="#1f1f1f" stroke-width="2" />
<path d="M1287.5,633.8 q5,1 6,5 M1295,631 q5,1 6,6" fill="none" stroke="#1f1f1f" stroke-width="1.6" />
<polygon points="1615.0,847.5 1637.5,862.5 1637.5,910.0 1632.5,907.5 1632.5,890.0 1615.0,880.0" fill="#fff" stroke="#1f1f1f" stroke-width="2" />
<polygon points="1637.5,862.5 1658.8,851.2 1658.8,897.5 1637.5,910.0" fill="#e4e4e4" stroke="#1f1f1f" stroke-width="2" />
<polygon points="1615.0,847.5 1635.0,837.5 1658.8,851.2 1637.5,862.5" fill="#fff" stroke="#1f1f1f" stroke-width="2" />
<polygon points="1992.3,635.1 1642.5,837.1 1660.0,848.7 2015.5,643.5" fill="#fff" stroke="none" />
<linearGradient id="lg814" gradientUnits="userSpaceOnUse" x1="1850.0" y1="739.0" x2="1856.0" y2="749.4"><stop offset="0" stop-color="#fff"/><stop offset="0.5" stop-color="#ececec"/><stop offset="1" stop-color="#dcdcdc"/></linearGradient>
<polygon points="2015.5,643.5 2021.0,650.0 2016.5,690.6 1664.5,893.8 1660.0,848.7" fill="url(#lg814)" stroke="none" />
<polyline points="2003.3,636.9 1650.3,840.7" fill="none" stroke="#1f1f1f" stroke-width="2" />
<polyline points="2015.5,643.5 1660.0,848.7" fill="none" stroke="#1f1f1f" stroke-width="2" />
<polyline points="2016.5,690.6 1664.5,893.8" fill="none" stroke="#1f1f1f" stroke-width="2" />
<path d="M1660.0,848.7 q5,1 6,8 L1664.5,893.8" fill="none" stroke="#1f1f1f" stroke-width="1.8" />
<path d="M1657.0,850.2 q5,1 6,8 l0,40" fill="none" stroke="#1f1f1f" stroke-width="1.6" />
<path d="M1673.0,829.0 q-1,-6 6,-7 l28.0,-16.2 l7,4 l-28.0,16.2 q-5,0 -6,6 z" fill="#fff" stroke="#1f1f1f" stroke-width="1.6" />
<path d="M1679.0,822.0 q5,2 7,7" fill="none" stroke="#1f1f1f" stroke-width="1.4" />
<path d="M1949.0,669.0 q-1,-6 6,-7 l28.0,-16.2 l7,4 l-28.0,16.2 q-5,0 -6,6 z" fill="#fff" stroke="#1f1f1f" stroke-width="1.6" />
<path d="M1955.0,662.0 q5,2 7,7" fill="none" stroke="#1f1f1f" stroke-width="1.4" />
<path d="M2003.3,636.9 q4,-3 6,1 q2,3 1,7" fill="none" stroke="#1f1f1f" stroke-width="1.6" />
<path d="M2006.5,635 q4,-3 7,1 q2,3 1,7" fill="none" stroke="#1f1f1f" stroke-width="1.6" />
<path d="M2012,643 q6,0 6.5,8 L2018.5,691" fill="none" stroke="#1f1f1f" stroke-width="1.8" />
<path d="M2015,641.5 q6,0 6.5,8 L2021.5,690" fill="none" stroke="#1f1f1f" stroke-width="1.8" />
<polygon points="1998.6,627.5 2020.3,616.2 2045.7,628.4 2045.7,675.5 2023.0,686.8 2021.5,690.0 2021.5,650.0 2016.0,641.0 2008.0,637.0 2001.0,632.0" fill="#fff" stroke="none" />
<polygon points="2023.0,640.7 2045.7,628.4 2045.7,675.5 2023.0,686.8" fill="#e0e0e0" stroke="#1f1f1f" stroke-width="2" />
<polygon points="1998.6,627.5 2020.3,616.2 2045.7,628.4 2023.0,640.7" fill="#fff" stroke="#1f1f1f" stroke-width="2" />
<polyline points="1998.6,627.5 1998.6,636.0" fill="none" stroke="#1f1f1f" stroke-width="2" />
</g>
<rect x="269" y="1711.2" width="292.5" height="614.3" fill="#fff" stroke="none"/>
<rect x="561.5" y="1711.2" width="14" height="614.3" fill="#c9c9c9" stroke="#1f1f1f" stroke-width="1.6"/>
</g>
<rect x="269" y="1711.2" width="758.5" height="614.3" fill="none" stroke="#1f1f1f" stroke-width="1.6"/>
</g>

<g id="fig6">
<clipPath id="cp1001"><polygon points="1226.3,1707.0 2300.0,1707.0 2300.0,2320.8 1226.3,2320.8"/></clipPath><g clip-path="url(#cp1001)">
<polygon points="1398.0,1707.0 1448.0,1707.0 1448.0,1933.8 1398.0,1961.2" fill="#c9c9c9" stroke="#1f1f1f" stroke-width="1.8" />
<polyline points="1448.0,1933.8 1540.0,1987.0" fill="none" stroke="#1f1f1f" stroke-width="2" />
<rect x="1835.75" y="1707" width="14.25" height="150" fill="#c9c9c9" stroke="#1f1f1f" stroke-width="1.8"/>
<polygon points="1552.5,2320.8 1582.5,2320.8 1690.0,2258.5 1675.0,2250.0" fill="#c9c9c9" stroke="#1f1f1f" stroke-width="1.8" />
<polygon points="1615.0,1700.5 1815.0,1816.0 1815.0,1831.0 1807.5,1832.5 1597.5,1711.3" fill="#fff" stroke="none" />
<polyline points="1615.0,1700.5 1815.0,1816.0 1815.0,1831.0 1807.5,1833.0" fill="none" stroke="#1f1f1f" stroke-width="2" />
<polyline points="1607.5,1705.0 1807.5,1820.5 1815.0,1816.0" fill="none" stroke="#1f1f1f" stroke-width="2" />
<polyline points="1807.5,1820.5 1807.5,1833.0 1607.5,1717.5" fill="none" stroke="#1f1f1f" stroke-width="2" />
<polygon points="1610.0,1741.2 1616.2,1737.5 1763.8,1822.5 1757.5,1826.2 1755.0,1840.5 1610.0,1757.0" fill="#fff" stroke="none" />
<polyline points="1610.0,1757.0 1610.0,1741.2 1616.2,1737.5 1763.8,1822.5" fill="none" stroke="#1f1f1f" stroke-width="2" />
<polyline points="1610.0,1741.2 1757.5,1826.2" fill="none" stroke="#1f1f1f" stroke-width="2" />
<polyline points="1610.0,1757.0 1753.8,1840.0" fill="none" stroke="#1f1f1f" stroke-width="1.6" />
<polyline points="1577.5,1707.0 1577.5,1721.2 1610.0,1740.0" fill="none" stroke="#1f1f1f" stroke-width="1.6" />
<polyline points="1550.0,1707.0 1577.5,1722.5" fill="none" stroke="#1f1f1f" stroke-width="1.6" />
<circle cx="1601.2" cy="1715.0" r="3.4" fill="#fff" stroke="#1f1f1f" stroke-width="1.6"/>
<polyline points="1518.8,1707.0 1752.5,1842.0" fill="none" stroke="#1f1f1f" stroke-width="2.6" />
<polyline points="1523.8,1707.0 1610.0,1757.0" fill="none" stroke="#1f1f1f" stroke-width="2.6" />
<polyline points="1531.2,1707.0 1610.0,1753.0" fill="none" stroke="#1f1f1f" stroke-width="1.6" />
<polyline points="1495.0,1707.0 1740.0,1848.5" fill="none" stroke="#1f1f1f" stroke-width="2" />
<g transform="translate(114.5,1400)">
<polygon points="1693.8,426.2 2020.8,615.0 1999.5,625.9 1677.5,440.0" fill="#fff" stroke="none" />
<polyline points="1693.8,426.2 2020.8,615.0" fill="none" stroke="#1f1f1f" stroke-width="2" />
<polyline points="1677.5,440.0 1999.5,625.9" fill="none" stroke="#1f1f1f" stroke-width="2" />
<polygon points="1290.0,635.0 1647.5,428.8 1672.0,440.0 1672.0,470.0 1300.0,670.0" fill="#fff" stroke="none" />
<polyline points="1290.0,635.0 1647.5,428.8" fill="none" stroke="#1f1f1f" stroke-width="2" />
<polyline points="1290.0,643.0 1647.5,436.8" fill="none" stroke="#1f1f1f" stroke-width="2" />
<polyline points="1290.0,651.0 1647.5,444.8" fill="none" stroke="#1f1f1f" stroke-width="1.6" />
<polygon points="1663.8,445.4 1992.3,635.1 1642.5,837.1 1314.0,647.4" fill="#fff" stroke="#1f1f1f" stroke-width="2.5" />
<polygon points="1663.8,451.9 1981.2,635.1 1642.5,830.7 1325.1,647.4" fill="none" stroke="#1f1f1f" stroke-width="2.8" />
<polygon points="1663.8,458.8 1738.8,502.1 1659.2,548.0 1584.2,504.6" fill="#fff" stroke="none" />
<clipPath id="cp1002"><polygon points="1663.8,458.8 1738.8,502.1 1659.2,548.0 1584.2,504.6"/></clipPath><g clip-path="url(#cp1002)">
<polygon points="1663.8,458.8 1584.2,504.6 1584.2,569.3 1663.8,523.5" fill="#dcdcdc" stroke="none" />
<polyline points="1663.8,458.8 1663.8,523.5" fill="none" stroke="#1f1f1f" stroke-width="2" />
<polyline points="1584.2,569.3 1663.8,523.5 1738.8,566.8" fill="none" stroke="#1f1f1f" stroke-width="2" />
</g>
<polygon points="1663.8,458.8 1738.8,502.1 1659.2,548.0 1584.2,504.6" fill="none" stroke="#1f1f1f" stroke-width="2" />
<polygon points="1743.2,504.6 1818.2,548.0 1738.8,593.8 1663.8,550.5" fill="#fff" stroke="none" />
<clipPath id="cp1003"><polygon points="1743.2,504.6 1818.2,548.0 1738.8,593.8 1663.8,550.5"/></clipPath><g clip-path="url(#cp1003)">
<polygon points="1743.2,504.6 1663.8,550.5 1663.8,615.2 1743.2,569.3" fill="#dcdcdc" stroke="none" />
<polyline points="1743.2,504.6 1743.2,569.3" fill="none" stroke="#1f1f1f" stroke-width="2" />
<polyline points="1663.8,615.2 1743.2,569.3 1818.2,612.7" fill="none" stroke="#1f1f1f" stroke-width="2" />
</g>
<polygon points="1743.2,504.6 1818.2,548.0 1738.8,593.8 1663.8,550.5" fill="none" stroke="#1f1f1f" stroke-width="2" />
<polygon points="1822.8,550.5 1897.8,593.8 1818.2,639.7 1743.2,596.4" fill="#fff" stroke="none" />
<clipPath id="cp1004"><polygon points="1822.8,550.5 1897.8,593.8 1818.2,639.7 1743.2,596.4"/></clipPath><g clip-path="url(#cp1004)">
<polygon points="1822.8,550.5 1743.2,596.4 1743.2,661.1 1822.8,615.2" fill="#dcdcdc" stroke="none" />
<polyline points="1822.8,550.5 1822.8,615.2" fill="none" stroke="#1f1f1f" stroke-width="2" />
<polyline points="1743.2,661.1 1822.8,615.2 1897.8,658.5" fill="none" stroke="#1f1f1f" stroke-width="2" />
</g>
<polygon points="1822.8,550.5 1897.8,593.8 1818.2,639.7 1743.2,596.4" fill="none" stroke="#1f1f1f" stroke-width="2" />
<polygon points="1579.8,507.2 1654.8,550.5 1575.2,596.4 1500.2,553.1" fill="#fff" stroke="none" />
<clipPath id="cp1005"><polygon points="1579.8,507.2 1654.8,550.5 1575.2,596.4 1500.2,553.1"/></clipPath><g clip-path="url(#cp1005)">
<polygon points="1579.8,507.2 1500.2,553.1 1500.2,617.8 1579.8,571.9" fill="#dcdcdc" stroke="none" />
<polyline points="1579.8,507.2 1579.8,571.9" fill="none" stroke="#1f1f1f" stroke-width="2" />
<polyline points="1500.2,617.8 1579.8,571.9 1654.8,615.2" fill="none" stroke="#1f1f1f" stroke-width="2" />
</g>
<polygon points="1579.8,507.2 1654.8,550.5 1575.2,596.4 1500.2,553.1" fill="none" stroke="#1f1f1f" stroke-width="2" />
<polygon points="1659.2,553.1 1734.2,596.4 1654.8,642.3 1579.8,599.0" fill="#fff" stroke="none" />
<clipPath id="cp1006"><polygon points="1659.2,553.1 1734.2,596.4 1654.8,642.3 1579.8,599.0"/></clipPath><g clip-path="url(#cp1006)">
<polygon points="1659.2,553.1 1579.8,599.0 1579.8,663.7 1659.2,617.8" fill="#dcdcdc" stroke="none" />
<polyline points="1659.2,553.1 1659.2,617.8" fill="none" stroke="#1f1f1f" stroke-width="2" />
<polyline points="1579.8,663.7 1659.2,617.8 1734.2,661.1" fill="none" stroke="#1f1f1f" stroke-width="2" />
</g>
<polygon points="1659.2,553.1 1734.2,596.4 1654.8,642.3 1579.8,599.0" fill="none" stroke="#1f1f1f" stroke-width="2" />
<polygon points="1738.8,599.0 1813.8,642.3 1734.2,688.2 1659.2,644.9" fill="#fff" stroke="none" />
<clipPath id="cp1007"><polygon points="1738.8,599.0 1813.8,642.3 1734.2,688.2 1659.2,644.9"/></clipPath><g clip-path="url(#cp1007)">
<polygon points="1738.8,599.0 1659.2,644.9 1659.2,709.6 1738.8,663.7" fill="#dcdcdc" stroke="none" />
<polyline points="1738.8,599.0 1738.8,663.7" fill="none" stroke="#1f1f1f" stroke-width="2" />
<polyline points="1659.2,709.6 1738.8,663.7 1813.8,707.0" fill="none" stroke="#1f1f1f" stroke-width="2" />
</g>
<polygon points="1738.8,599.0 1813.8,642.3 1734.2,688.2 1659.2,644.9" fill="none" stroke="#1f1f1f" stroke-width="2" />
<polygon points="1654.8,647.5 1729.8,690.8 1650.2,736.7 1575.2,693.4" fill="#fff" stroke="none" />
<clipPath id="cp1008"><polygon points="1654.8,647.5 1729.8,690.8 1650.2,736.7 1575.2,693.4"/></clipPath><g clip-path="url(#cp1008)">
<polygon points="1654.8,647.5 1575.2,693.4 1575.2,758.1 1654.8,712.2" fill="#dcdcdc" stroke="none" />
<polyline points="1654.8,647.5 1654.8,712.2" fill="none" stroke="#1f1f1f" stroke-width="2" />
<polyline points="1575.2,758.1 1654.8,712.2 1729.8,755.5" fill="none" stroke="#1f1f1f" stroke-width="2" />
</g>
<polygon points="1654.8,647.5 1729.8,690.8 1650.2,736.7 1575.2,693.4" fill="none" stroke="#1f1f1f" stroke-width="2" />
<polygon points="1570.8,696.0 1645.8,739.3 1566.2,785.2 1491.2,741.9" fill="#fff" stroke="none" />
<clipPath id="cp1009"><polygon points="1570.8,696.0 1645.8,739.3 1566.2,785.2 1491.2,741.9"/></clipPath><g clip-path="url(#cp1009)">
<polygon points="1570.8,696.0 1491.2,741.9 1491.2,806.6 1570.8,760.7" fill="#dcdcdc" stroke="none" />
<polyline points="1570.8,696.0 1570.8,760.7" fill="none" stroke="#1f1f1f" stroke-width="2" />
<polyline points="1491.2,806.6 1570.8,760.7 1645.8,804.0" fill="none" stroke="#1f1f1f" stroke-width="2" />
</g>
<polygon points="1570.8,696.0 1645.8,739.3 1566.2,785.2 1491.2,741.9" fill="none" stroke="#1f1f1f" stroke-width="2" />
<polygon points="1495.8,555.7 1650.2,644.9 1491.5,736.6 1337.0,647.4" fill="#fff" stroke="#1f1f1f" stroke-width="2" />
<polygon points="1902.2,596.4 1969.3,635.2 1805.8,729.6 1738.8,690.8" fill="#fff" stroke="#1f1f1f" stroke-width="2" />
<polygon points="1734.2,693.4 1801.3,732.2 1642.6,823.8 1575.5,785.1" fill="#fff" stroke="none" />
<clipPath id="cp1010"><polygon points="1734.2,693.4 1801.3,732.2 1642.6,823.8 1575.5,785.1"/></clipPath><g clip-path="url(#cp1010)">
<polygon points="1734.2,693.4 1575.5,785.1 1575.5,849.8 1734.2,758.1" fill="#dcdcdc" stroke="none" />
<polyline points="1734.2,693.4 1734.2,758.1" fill="none" stroke="#1f1f1f" stroke-width="2" />
<polyline points="1575.5,849.8 1734.2,758.1 1801.3,796.9" fill="none" stroke="#1f1f1f" stroke-width="2" />
</g>
<polygon points="1734.2,693.4 1801.3,732.2 1642.6,823.8 1575.5,785.1" fill="none" stroke="#1f1f1f" stroke-width="2" />
<clipPath id="cp1011"><polygon points="1734.2,693.4 1801.3,732.2 1642.6,823.8 1575.5,785.1"/></clipPath><g clip-path="url(#cp1011)">
<linearGradient id="lg1012" gradientUnits="userSpaceOnUse" x1="1735.0" y1="735.0" x2="1742.5" y2="748.0"><stop offset="0" stop-color="#fff"/><stop offset="0.6" stop-color="#f0f0f0"/><stop offset="1" stop-color="#d6d6d6"/></linearGradient>
<path d="M1735.0,735.0 L1617.0,803.1 q6,10 15.0,8.2 L1750.0,743.2 q-1,-9 -15.0,-8.2 z" fill="url(#lg1012)" stroke="#1f1f1f" stroke-width="1.8" />
<linearGradient id="lg1013" gradientUnits="userSpaceOnUse" x1="1751.0" y1="745.0" x2="1758.5" y2="758.0"><stop offset="0" stop-color="#fff"/><stop offset="0.6" stop-color="#f0f0f0"/><stop offset="1" stop-color="#d6d6d6"/></linearGradient>
<path d="M1751.0,745.0 L1633.0,813.1 q6,10 15.0,8.2 L1766.0,753.2 q-1,-9 -15.0,-8.2 z" fill="url(#lg1013)" stroke="#1f1f1f" stroke-width="1.8" />
</g>
<polygon points="1734.2,693.4 1801.3,732.2 1642.6,823.8 1575.5,785.1" fill="none" stroke="#1f1f1f" stroke-width="2" />
<path d="M1561.8,692.0 l14,-7 l11,6 l0,5 l-13,6 l-12,-6 z" fill="#fff" stroke="#1f1f1f" stroke-width="1.6" />
<path d="M1573.8,702.0 l0,-5 l13,-6" fill="none" stroke="#1f1f1f" stroke-width="1.4" />
<path d="M1751.0,705.0 l14,-7 l11,6 l0,5 l-13,6 l-12,-6 z" fill="#fff" stroke="#1f1f1f" stroke-width="1.6" />
<path d="M1763.0,715.0 l0,-5 l13,-6" fill="none" stroke="#1f1f1f" stroke-width="1.4" />
<path d="M1323.0,629.0 q-1,-6 6,-7 l28.0,-16.2 l7,4 l-28.0,16.2 q-5,0 -6,6 z" fill="#fff" stroke="#1f1f1f" stroke-width="1.6" />
<path d="M1329.0,622.0 q5,2 7,7" fill="none" stroke="#1f1f1f" stroke-width="1.4" />
<path d="M1603.0,468.0 q-1,-6 6,-7 l28.0,-16.2 l7,4 l-28.0,16.2 q-5,0 -6,6 z" fill="#fff" stroke="#1f1f1f" stroke-width="1.6" />
<path d="M1609.0,461.0 q5,2 7,7" fill="none" stroke="#1f1f1f" stroke-width="1.4" />
<polygon points="1647.5,428.8 1670.0,413.8 1693.8,426.2 1672.5,440.0 1670.0,443.0 1666.0,452.0 1655.0,446.0 1650.0,438.0" fill="#fff" stroke="none" />
<path d="M1647.5,428.8 L1670,413.8 L1693.8,426.2" fill="none" stroke="#1f1f1f" stroke-width="2" />
<path d="M1693.8,426.6 L1672.5,440.4 q-3,2 -3,8" fill="none" stroke="#1f1f1f" stroke-width="2.6" />
<path d="M1647.5,428.8 q-5,1 -4,6 q1,4 6,6" fill="none" stroke="#1f1f1f" stroke-width="1.6" />
<path d="M1650.5,427 q5,1 5.5,7 q0,3 -2.5,6" fill="none" stroke="#1f1f1f" stroke-width="1.6" />
<path d="M1656,438 q6,-1 9,4 q2,4 1,9" fill="none" stroke="#1f1f1f" stroke-width="1.6" />
<path d="M1659,436 q8,-1 11,5 q1,3 0.5,7" fill="none" stroke="#1f1f1f" stroke-width="1.6" />
<polygon points="1262.5,647.5 1287.5,633.8 1310.0,647.5 1285.0,661.2 1285.0,687.5 1262.5,673.8" fill="#fff" stroke="none" />
<polygon points="1306.2,650.0 1636.2,840.5 1612.5,876.6 1285.0,687.5 1285.0,661.2" fill="#fff" stroke="none" />
<polygon points="1314.0,647.4 1642.5,837.1 1613.8,851.0 1285.0,661.2 1310.0,647.5" fill="#fff" stroke="none" />
<polyline points="1314.0,647.4 1642.5,837.1" fill="none" stroke="#1f1f1f" stroke-width="2.4" />
<polyline points="1285.0,661.2 1262.5,647.5 1287.5,633.8" fill="none" stroke="#1f1f1f" stroke-width="2" />
<polyline points="1262.5,647.5 1262.5,673.8 1285.0,687.5 1285.0,661.2" fill="none" stroke="#1f1f1f" stroke-width="2" />
<polyline points="1285.0,661.2 1310.0,647.5" fill="none" stroke="#1f1f1f" stroke-width="2" />
<polyline points="1285.0,661.2 1613.8,851.0" fill="none" stroke="#1f1f1f" stroke-width="2" />
<polyline points="1285.0,687.5 1612.5,876.6" fill="none" stroke="#1f1f1f" stroke-width="2" />
<path d="M1287.5,633.8 q5,1 6,5 M1295,631 q5,1 6,6" fill="none" stroke="#1f1f1f" stroke-width="1.6" />
<polygon points="1615.0,847.5 1637.5,862.5 1637.5,910.0 1632.5,907.5 1632.5,890.0 1615.0,880.0" fill="#fff" stroke="#1f1f1f" stroke-width="2" />
<polygon points="1637.5,862.5 1658.8,851.2 1658.8,897.5 1637.5,910.0" fill="#e4e4e4" stroke="#1f1f1f" stroke-width="2" />
<polygon points="1615.0,847.5 1635.0,837.5 1658.8,851.2 1637.5,862.5" fill="#fff" stroke="#1f1f1f" stroke-width="2" />
<polygon points="1992.3,635.1 1642.5,837.1 1660.0,848.7 2015.5,643.5" fill="#fff" stroke="none" />
<linearGradient id="lg1014" gradientUnits="userSpaceOnUse" x1="1850.0" y1="739.0" x2="1856.0" y2="749.4"><stop offset="0" stop-color="#fff"/><stop offset="0.5" stop-color="#ececec"/><stop offset="1" stop-color="#dcdcdc"/></linearGradient>
<polygon points="2015.5,643.5 2021.0,650.0 2016.5,690.6 1664.5,893.8 1660.0,848.7" fill="url(#lg1014)" stroke="none" />
<polyline points="2003.3,636.9 1650.3,840.7" fill="none" stroke="#1f1f1f" stroke-width="2" />
<polyline points="2015.5,643.5 1660.0,848.7" fill="none" stroke="#1f1f1f" stroke-width="2" />
<polyline points="2016.5,690.6 1664.5,893.8" fill="none" stroke="#1f1f1f" stroke-width="2" />
<path d="M1660.0,848.7 q5,1 6,8 L1664.5,893.8" fill="none" stroke="#1f1f1f" stroke-width="1.8" />
<path d="M1657.0,850.2 q5,1 6,8 l0,40" fill="none" stroke="#1f1f1f" stroke-width="1.6" />
<path d="M1673.0,829.0 q-1,-6 6,-7 l28.0,-16.2 l7,4 l-28.0,16.2 q-5,0 -6,6 z" fill="#fff" stroke="#1f1f1f" stroke-width="1.6" />
<path d="M1679.0,822.0 q5,2 7,7" fill="none" stroke="#1f1f1f" stroke-width="1.4" />
<path d="M1949.0,669.0 q-1,-6 6,-7 l28.0,-16.2 l7,4 l-28.0,16.2 q-5,0 -6,6 z" fill="#fff" stroke="#1f1f1f" stroke-width="1.6" />
<path d="M1955.0,662.0 q5,2 7,7" fill="none" stroke="#1f1f1f" stroke-width="1.4" />
<path d="M2003.3,636.9 q4,-3 6,1 q2,3 1,7" fill="none" stroke="#1f1f1f" stroke-width="1.6" />
<path d="M2006.5,635 q4,-3 7,1 q2,3 1,7" fill="none" stroke="#1f1f1f" stroke-width="1.6" />
<path d="M2012,643 q6,0 6.5,8 L2018.5,691" fill="none" stroke="#1f1f1f" stroke-width="1.8" />
<path d="M2015,641.5 q6,0 6.5,8 L2021.5,690" fill="none" stroke="#1f1f1f" stroke-width="1.8" />
<polygon points="1998.6,627.5 2020.3,616.2 2045.7,628.4 2045.7,675.5 2023.0,686.8 2021.5,690.0 2021.5,650.0 2016.0,641.0 2008.0,637.0 2001.0,632.0" fill="#fff" stroke="none" />
<polygon points="2023.0,640.7 2045.7,628.4 2045.7,675.5 2023.0,686.8" fill="#e0e0e0" stroke="#1f1f1f" stroke-width="2" />
<polygon points="1998.6,627.5 2020.3,616.2 2045.7,628.4 2023.0,640.7" fill="#fff" stroke="#1f1f1f" stroke-width="2" />
<polyline points="1998.6,627.5 1998.6,636.0" fill="none" stroke="#1f1f1f" stroke-width="2" />
</g>
<polygon points="1427.5,2103.8 1750.0,2290.0 1750.0,2310.0 1427.5,2116.2" fill="#fff" stroke="none" />
<polyline points="1750.0,2290.0 1427.5,2103.8 1427.5,2116.2 1750.0,2310.0" fill="none" stroke="#1f1f1f" stroke-width="2" />
<polyline points="1430.0,2110.0 1485.0,2136.2" fill="none" stroke="#1f1f1f" stroke-width="2.4" />
<polygon points="1398.8,2088.8 1407.5,2085.0 1409.5,2093.8 1401.2,2098.0" fill="#fff" stroke="#1f1f1f" stroke-width="1.6" />
<rect x="1226.3" y="1707" width="158.20000000000005" height="613.8000000000002" fill="#fff" stroke="none"/>
<rect x="1384.5" y="1707" width="13.5" height="613.8000000000002" fill="#c9c9c9" stroke="#1f1f1f" stroke-width="1.8"/>
<polyline points="1835.8,1795.5 2174.5,1990.0" fill="none" stroke="#1f1f1f" stroke-width="1.2" />
<polygon points="1835.8,1795.5 1850.7,1809.0 1854.9,1801.7" fill="#111" stroke="#1f1f1f" stroke-width="0.8" />
<polygon points="2174.5,1990.0 2155.4,1983.8 2159.6,1976.5" fill="#111" stroke="#1f1f1f" stroke-width="0.8" />
<polyline points="2174.5,1981.0 2174.5,2022.5 2165.0,2027.5" fill="none" stroke="#1f1f1f" stroke-width="1.2" />
<text x="0" y="0" font-size="32" class="lbl" stroke="none" text-anchor="middle" transform="translate(1999,1887.5) rotate(30)" textLength="34" lengthAdjust="spacingAndGlyphs">437</text>
</g>
<polyline points="1850.0,1707.0 1226.3,1707.0 1226.3,2320.8 1582.5,2320.8" fill="none" stroke="#1f1f1f" stroke-width="1.8" />
</g>

<g id="fig7">
<clipPath id="cp1201"><polygon points="306.2,2492.5 1090.5,2492.5 1090.5,3107.0 306.2,3107.0"/></clipPath><g clip-path="url(#cp1201)">
<rect x="306.2" y="2492.5" width="318.8" height="614.5" fill="#ededed" stroke="none"/>
<polygon points="307.0,2797.8 624.7,2619.4 624.7,2691.8 408.7,2810.3 355.7,2793.6" fill="#f3f3f3" stroke="none" />
<polygon points="307.0,2786.6 624.7,2608.8 624.7,2620.8 307.0,2799.2" fill="#fbfbfb" stroke="none" />
<polygon points="307.0,2795.0 355.7,2791.6 624.7,2923.2 624.7,2959.4 576.0,2963.6 383.6,2852.1 307.0,2845.2" fill="#fcfcfc" stroke="none" />
<polygon points="392.0,2854.9 609.4,2938.5 574.6,2960.0 419.9,2875.8" fill="#efefef" stroke="none" />
<polygon points="386.4,2852.1 467.2,2889.8 467.2,2953.9 523.0,2990.1 624.7,2970.6 624.7,3107.2 327.9,3107.2 520.2,2992.3 392.0,2938.5" fill="#fdfdfd" stroke="none" />
<polygon points="467.2,2892.5 574.6,2960.0 624.7,2958.0 624.7,2974.8 523.0,2992.3 467.2,2953.9" fill="#fdfdfd" stroke="none" />
<linearGradient id="lg1202" gradientUnits="userSpaceOnUse" x1="630.0" y1="2492.5" x2="630.0" y2="3107.0"><stop offset="0" stop-color="#d0d0d0"/><stop offset="0.45" stop-color="#d6d6d6"/><stop offset="1" stop-color="#e6e6e6"/></linearGradient>
<rect x="625" y="2492.5" width="13.75" height="614.5" fill="url(#lg1202)" stroke="#1f1f1f" stroke-width="1.6"/>
<polygon points="638.8,2492.0 689.5,2492.0 689.5,2895.0 666.0,2909.0 638.8,2903.0" fill="#c9c9c9" stroke="none" />
<polyline points="689.5,2492.0 689.5,2897.0" fill="none" stroke="#1f1f1f" stroke-width="2" />
<rect x="1076.8" y="2492.5" width="13.7" height="614.5" fill="#c9c9c9" stroke="#1f1f1f" stroke-width="1.6"/>
<polyline points="760.0,2936.2 1057.5,3107.0" fill="none" stroke="#1f1f1f" stroke-width="2" />
<polygon points="585.0,2480.0 625.0,2498.8 625.0,2516.2 550.0,2480.0" fill="#fff" stroke="none" />
<polygon points="625.0,2498.8 637.5,2492.0 667.0,2492.0 625.0,2516.2" fill="#c9c9c9" stroke="none" />
<polygon points="587.0,2480.0 625.0,2498.8 637.5,2492.0" fill="#fff" stroke="none" />
<polyline points="595.0,2481.4 625.0,2498.8 639.0,2490.7" fill="none" stroke="#1f1f1f" stroke-width="2" />
<polyline points="565.0,2481.6 625.0,2516.2 668.0,2491.4" fill="none" stroke="#1f1f1f" stroke-width="2" />
<polyline points="625.0,2498.8 625.0,2516.2" fill="none" stroke="#1f1f1f" stroke-width="2" />
<polyline points="716.2,2638.8 942.5,2767.5" fill="none" stroke="#1f1f1f" stroke-width="3" />
<polyline points="716.2,2638.8 716.2,2651.2 930.0,2772.5" fill="none" stroke="#1f1f1f" stroke-width="2" />
<polyline points="720.0,2631.2 1006.0,2735.0 996.6,2732.2" fill="none" stroke="#1f1f1f" stroke-width="2" />
<polyline points="755.0,2642.5 969.4,2750.0" fill="none" stroke="#1f1f1f" stroke-width="1.6" />
<polyline points="775.0,2652.5 954.7,2758.4" fill="none" stroke="#1f1f1f" stroke-width="1.6" />
<polyline points="840.0,2675.0 978.8,2728.0 998.7,2734.3" fill="none" stroke="#1f1f1f" stroke-width="1.6" />
<polyline points="736.2,2568.8 1058.4,2689.3" fill="none" stroke="#1f1f1f" stroke-width="2" />
<linearGradient id="lg1203" gradientUnits="userSpaceOnUse" x1="670.0" y1="2599.0" x2="676.0" y2="2609.4"><stop offset="0" stop-color="#fff"/><stop offset="0.5" stop-color="#ececec"/><stop offset="1" stop-color="#dcdcdc"/></linearGradient>
<polygon points="638.8,2607.5 688.8,2578.8 695.0,2578.0 700.0,2581.5 638.8,2616.5" fill="#fff" stroke="none" />
<polygon points="638.8,2616.5 700.0,2581.5 708.0,2590.0 714.0,2629.0 638.8,2672.5" fill="url(#lg1203)" stroke="none" />
<polyline points="638.8,2607.5 688.8,2578.8" fill="none" stroke="#1f1f1f" stroke-width="2" />
<polyline points="638.8,2616.5 700.0,2581.5" fill="none" stroke="#1f1f1f" stroke-width="2" />
<polyline points="638.8,2672.5 714.0,2629.0" fill="none" stroke="#1f1f1f" stroke-width="2" />
<path d="M688.75,2578.75 q4,-3 6,1 q2,3 1,8" fill="none" stroke="#1f1f1f" stroke-width="1.6" />
<path d="M692,2577 q4,-3 7,1 q2,3 1,8" fill="none" stroke="#1f1f1f" stroke-width="1.6" />
<path d="M700,2581.5 q6,1 7,9 L714,2629" fill="none" stroke="#1f1f1f" stroke-width="1.8" />
<path d="M703.5,2580 q6,1 7,9 L718,2630" fill="none" stroke="#1f1f1f" stroke-width="1.6" />
<polygon points="690.0,2573.8 713.8,2559.5 736.2,2568.8 715.0,2581.2 713.8,2590.0 720.0,2631.2 717.5,2631.2 710.0,2590.0 701.2,2582.5" fill="#fff" stroke="none" />
<polyline points="690.0,2573.8 713.8,2559.5 736.2,2568.8" fill="none" stroke="#1f1f1f" stroke-width="2" />
<polyline points="736.2,2568.8 715.0,2581.2" fill="none" stroke="#1f1f1f" stroke-width="3" />
<path d="M715.0,2581.2 q-2,3 -1,8 L720.0,2631.2" fill="none" stroke="#1f1f1f" stroke-width="2" />
<polygon points="1050.0,2763.6 1057.3,2763.6 1057.3,2814.9 1046.9,2820.2 1044.8,2817.0 1050.0,2813.9" fill="#e2e2e2" stroke="#1f1f1f" stroke-width="1.6" />
<polygon points="985.1,2806.6 1007.1,2793.0 1019.6,2785.6 1022.8,2789.8 1040.6,2799.2 1040.6,2821.2 1025.9,2830.6" fill="#fff" stroke="#1f1f1f" stroke-width="1.6" />
<polyline points="1007.1,2793.0 1009.2,2798.2 1038.5,2814.9" fill="none" stroke="#1f1f1f" stroke-width="1.6" />
<polyline points="1025.9,2830.6 1025.9,2819.1 996.6,2802.4" fill="none" stroke="#1f1f1f" stroke-width="1.6" />
<linearGradient id="lg1204" gradientUnits="userSpaceOnUse" x1="870.0" y1="2817.0" x2="876.0" y2="2827.4"><stop offset="0" stop-color="#fff"/><stop offset="0.5" stop-color="#ececec"/><stop offset="1" stop-color="#dcdcdc"/></linearGradient>
<polygon points="690.0,2912.5 1039.5,2709.2 1046.9,2708.2 1053.1,2713.4 696.2,2917.0" fill="#fff" stroke="none" />
<polygon points="696.2,2917.0 1053.1,2713.4 1061.5,2762.6 707.5,2963.0" fill="url(#lg1204)" stroke="none" />
<polyline points="690.0,2912.5 1039.5,2709.2" fill="none" stroke="#1f1f1f" stroke-width="2" />
<polyline points="696.2,2917.0 1053.1,2713.4" fill="none" stroke="#1f1f1f" stroke-width="2" />
<polyline points="707.5,2963.0 1061.5,2762.6" fill="none" stroke="#1f1f1f" stroke-width="2" />
<polyline points="696.2,2917.0 707.5,2963.0" fill="none" stroke="#1f1f1f" stroke-width="1.8" />
<polyline points="699.8,2915.0 711.5,2961.0" fill="none" stroke="#1f1f1f" stroke-width="1.6" />
<polyline points="1053.1,2713.4 1061.5,2762.6" fill="none" stroke="#1f1f1f" stroke-width="1.8" />
<polyline points="1049.6,2715.4 1057.5,2764.6" fill="none" stroke="#1f1f1f" stroke-width="1.6" />
<path d="M1039.5,2709.2 q4,-3 6,0 q3,3 3,6" fill="none" stroke="#1f1f1f" stroke-width="1.6" />
<polygon points="1036.4,2699.8 1058.4,2689.3 1083.5,2697.7 1088.7,2743.8 1064.6,2761.5 1061.5,2762.6 1053.1,2713.4 1040.6,2709.2" fill="#fff" stroke="none" />
<polygon points="1060.5,2711.3 1083.5,2697.7 1088.7,2743.8 1064.6,2761.5" fill="#e2e2e2" stroke="#1f1f1f" stroke-width="2" />
<polygon points="1036.4,2699.8 1058.4,2689.3 1083.5,2697.7 1060.5,2711.3" fill="#fff" stroke="#1f1f1f" stroke-width="2" />
<polygon points="638.8,2903.0 666.2,2908.8 689.5,2895.0 705.5,2905.5 696.2,2920.0 673.8,2933.8 676.2,2960.0 657.5,2952.5 638.8,2945.0" fill="#fff" stroke="none" />
<polyline points="638.8,2945.0 657.5,2952.5 676.2,2960.0" fill="none" stroke="#1f1f1f" stroke-width="2" />
<polyline points="657.5,2952.5 651.2,2926.2 672.5,2912.5 696.2,2920.0" fill="none" stroke="#1f1f1f" stroke-width="2" />
<polyline points="651.2,2926.2 673.8,2933.8" fill="none" stroke="#1f1f1f" stroke-width="2" />
<polyline points="666.2,2908.8 689.5,2895.0 705.5,2905.5" fill="none" stroke="#1f1f1f" stroke-width="1.6" />
<polygon points="673.8,2933.8 696.2,2920.0 703.8,2967.5 680.0,2982.5" fill="#e2e2e2" stroke="#1f1f1f" stroke-width="2" />
<polygon points="640.0,3022.5 656.2,3031.2 656.2,3042.5 641.2,3051.2 641.2,3040.0 648.8,3036.2 640.0,3031.2" fill="#fff" stroke="#1f1f1f" stroke-width="1.6" />
<polygon points="852.1,2726.6 863.0,2752.1 860.1,2751.5 866.8,2804.5 858.4,2803.4 851.5,2749.6 845.8,2747.9" fill="#eee" stroke="#1f1f1f" stroke-width="1.6" />
<polyline points="852.1,2726.6 863.0,2752.1 860.1,2751.5 866.8,2804.5" fill="none" stroke="#1f1f1f" stroke-width="2.8" />
<polygon points="896.1,2824.4 939.6,2839.6 940.1,2833.8 958.9,2850.5 941.1,2853.7 939.2,2847.0 897.1,2831.7" fill="#eee" stroke="#1f1f1f" stroke-width="1.6" />
<polyline points="940.1,2833.8 958.9,2850.5 941.1,2853.7" fill="none" stroke="#1f1f1f" stroke-width="2.8" />
<text x="817.5" y="2785.5" font-size="35" class="lbl" stroke="none" textLength="21" lengthAdjust="spacingAndGlyphs">1.</text>
<text x="941.5" y="2903" font-size="35" class="lbl" stroke="none" textLength="23" lengthAdjust="spacingAndGlyphs">2.</text>
</g>
<rect x="306.2" y="2492.5" width="784.3" height="614.5" fill="none" stroke="#1f1f1f" stroke-width="1.6"/>
</g>

<g id="fig8">
<clipPath id="cp1401"><polygon points="1454.0,2660.4 1842.8,2660.4 1842.8,3279.0 1454.0,3279.0"/></clipPath><g clip-path="url(#cp1401)">
<rect x="1820.5" y="2660.4" width="22.3" height="618.5999999999999" fill="#c9c9c9" stroke="#1f1f1f" stroke-width="1.6"/>
<polygon points="1453.7,2904.1 1708.3,3053.0 1674.0,3072.7 1673.3,3090.5 1644.6,3090.5 1453.7,3197.6" fill="#d3d3d3" stroke="#1f1f1f" stroke-width="2" />
<polygon points="1674.0,3072.7 1708.3,3053.0 1708.3,3035.0 1731.7,3021.0 1737.9,3022.8 1768.7,3040.0 1768.1,3048.5 1686.8,3097.3 1673.3,3090.5" fill="#dadada" stroke="#1f1f1f" stroke-width="1.8" />
<polyline points="1686.5,3094.5 1767.5,3045.7" fill="none" stroke="#1f1f1f" stroke-width="1.2" />
<polygon points="1716.4,3014.8 1744.7,2996.3 1758.2,3002.5 1775.5,3017.9 1775.5,3026.5 1770.5,3029.0 1761.9,3033.9 1737.9,3022.8 1731.7,3021.0 1710.8,3033.0" fill="#fff" stroke="#1f1f1f" stroke-width="1.6" />
<polyline points="1710.8,3025.3 1751.0,3000.6" fill="none" stroke="#1f1f1f" stroke-width="2.4" />
<polyline points="1712.0,3029.0 1741.0,3013.0 1758.0,3023.0 1758.0,3030.0" fill="none" stroke="#1f1f1f" stroke-width="1.4" />
<polyline points="1741.0,3013.0 1758.2,3002.5" fill="none" stroke="#1f1f1f" stroke-width="1.4" />
<polyline points="1758.0,3023.0 1770.5,3016.0" fill="none" stroke="#1f1f1f" stroke-width="1.4" />
<polygon points="1713.9,3000.0 1731.7,2989.6 1744.7,2996.3 1716.4,3014.8" fill="#fff" stroke="#1f1f1f" stroke-width="1.8" />
<polyline points="1716.4,3003.0 1737.5,2992.5" fill="none" stroke="#1f1f1f" stroke-width="1.2" />
<polygon points="1454.0,2756.5 1743.0,2921.5 1743.1,2992.8 1453.7,2826.5" fill="#dadada" stroke="none" />
<polygon points="1453.7,2826.5 1743.1,2992.8 1743.1,3000.1 1731.7,2989.6 1713.9,3000.0 1711.1,2997.7 1453.7,2849.9" fill="#dadada" stroke="none" />
<polygon points="1453.7,2849.9 1711.1,2997.7 1711.1,3007.5 1453.7,2859.8" fill="#e9e9e9" stroke="none" />
<polygon points="1453.7,2859.8 1709.9,3006.3 1709.9,3053.1 1453.7,2904.1" fill="#dadada" stroke="none" />
<polyline points="1454.0,2756.5 1743.0,2921.5" fill="none" stroke="#1f1f1f" stroke-width="2" />
<polyline points="1454.0,2759.5 1743.0,2924.5" fill="none" stroke="#fff" stroke-width="1" />
<polyline points="1453.7,2826.5 1743.1,2992.8" fill="none" stroke="#1f1f1f" stroke-width="2.6" />
<polyline points="1453.7,2849.9 1711.1,2997.7" fill="none" stroke="#1f1f1f" stroke-width="2" />
<polyline points="1453.7,2859.8 1709.9,3006.3" fill="none" stroke="#1f1f1f" stroke-width="2" />
<polyline points="1453.7,2904.1 1709.9,3053.1 1709.9,3006.3" fill="none" stroke="#1f1f1f" stroke-width="2" />
<polyline points="1711.1,2997.7 1713.9,3000.0 1713.9,3012.0" fill="none" stroke="#1f1f1f" stroke-width="2" />
<polygon points="1743.1,2921.3 1751.7,2923.8 1751.7,2996.5 1743.1,2992.8" fill="#dadada" stroke="#1f1f1f" stroke-width="1.6" />
<polyline points="1746.8,2922.6 1746.8,2994.0" fill="none" stroke="#1f1f1f" stroke-width="1.4" />
<polygon points="1751.7,2923.8 1791.1,2943.5 1791.5,3021.6 1788.4,3022.8 1788.4,3057.3 1785.9,3058.5 1770.5,3048.7 1770.5,3029.0 1775.5,3026.5 1775.5,3017.9 1752.1,3003.1" fill="#dadada" stroke="#1f1f1f" stroke-width="2" />
<polyline points="1752.1,3003.1 1788.4,3022.8" fill="none" stroke="#1f1f1f" stroke-width="1.6" />
<polyline points="1775.5,3026.5 1788.4,3033.0" fill="none" stroke="#1f1f1f" stroke-width="1.2" />
<path d="M1663.1,2954.6 L1696.3,2973.1" fill="none" stroke="#1f1f1f" stroke-width="7" stroke-linecap="round"/>
<path d="M1663.1,2954.6 L1696.3,2973.1" fill="none" stroke="#dadada" stroke-width="3.6" stroke-linecap="round"/>
<ellipse cx="1658.1" cy="2951.6" rx="6.5" ry="4.5" fill="#eee" stroke="#1f1f1f" stroke-width="1.6"/>
<ellipse cx="1658.1" cy="2952.1" rx="3" ry="2" fill="none" stroke="#1f1f1f" stroke-width="1.4"/>
<polygon points="1453.7,3197.6 1644.6,3090.5 1644.6,3113.9 1489.4,3210.0 1466.0,3193.9 1453.7,3200.1" fill="#fff" stroke="none" />
<polyline points="1453.7,3197.6 1644.6,3090.5" fill="none" stroke="#1f1f1f" stroke-width="2" />
<polyline points="1466.0,3193.9 1644.6,3093.7" fill="none" stroke="#1f1f1f" stroke-width="1.4" />
<polyline points="1477.1,3198.9 1644.6,3104.0" fill="none" stroke="#1f1f1f" stroke-width="1.6" />
<polyline points="1486.9,3204.5 1644.6,3113.9" fill="none" stroke="#1f1f1f" stroke-width="1.8" />
<polyline points="1491.9,3207.5 1644.6,3116.8" fill="none" stroke="#1f1f1f" stroke-width="1.2" />
<polygon points="1453.7,3200.1 1466.0,3193.9 1489.4,3210.0 1453.7,3229.7" fill="#d3d3d3" stroke="#1f1f1f" stroke-width="1.6" />
<polyline points="1453.7,3232.1 1490.6,3211.7" fill="none" stroke="#1f1f1f" stroke-width="1.6" />
<polyline points="1466.0,3193.9 1489.4,3209.5 1494.8,3207.5 1494.8,3200.1" fill="none" stroke="#1f1f1f" stroke-width="2.2" />
<polygon points="1656.5,2972.0 1659.2,2963.0 1661.9,2972.0 1661.9,3060.0 1656.5,3060.0" fill="#fff" stroke="#1f1f1f" stroke-width="1.6" />
<g fill="none" stroke="#1f1f1f" stroke-width="1.6">
<path d="M1684,3004 q-6,-9 -24,-9 q-22,1 -23,12 q1,9 19,11" />
<path d="M1681,3008 q-7,-7 -21,-7 q-16,1 -17,7 q1,6 14,8" />
<path d="M1660,2990 l11,4 l-8,7" />
<ellipse cx="1659" cy="3027" rx="22.5" ry="9.5"/><ellipse cx="1659" cy="3027" rx="17" ry="6"/>
<path d="M1637,3040 q2,10 22,10 q20,0 22,-10"/><path d="M1642,3040 q3,6 17,6 q14,0 17,-6"/>
</g>
<polygon points="1656.5,2975.0 1661.9,2975.0 1661.9,3058.0 1656.5,3058.0" fill="#fff" stroke="#1f1f1f" stroke-width="1.6" />
<polygon points="1645.0,3060.0 1650.0,3055.0 1669.0,3055.0 1674.0,3060.0 1674.0,3068.0 1669.0,3072.0 1650.0,3072.0 1645.0,3068.0" fill="#fff" stroke="#1f1f1f" stroke-width="2" />
<polyline points="1652.0,3055.0 1652.0,3072.0" fill="none" stroke="#1f1f1f" stroke-width="1.4" />
<polyline points="1667.0,3055.0 1667.0,3072.0" fill="none" stroke="#1f1f1f" stroke-width="1.4" />
<rect x="1647" y="3072" width="25" height="5.5" fill="#111" stroke="#1f1f1f" stroke-width="1"/>
<path d="M1645.5,3079 L1673,3079 L1674,3140 q-1,12 -14.5,12 q-13.5,0 -14.5,-12 z" fill="#fff" stroke="#1f1f1f" stroke-width="2.2" />
<path d="M1652.5,3080 L1652.5,3134 q1,5 -5,8 M1666.5,3080 L1666.5,3134 q-1,5 5,8" fill="none" stroke="#1f1f1f" stroke-width="1.6" />
<path d="M1652.5,3134 q7,4 14,0" fill="none" stroke="#1f1f1f" stroke-width="1.4" />
<polygon points="1714.8,2819.1 1746.8,2826.0 1740.6,2829.7 1794.8,2861.0 1787.9,2866.4 1733.7,2834.4 1728.3,2838.8" fill="#a3a3a3" stroke="#1f1f1f" stroke-width="1.6" />
<polygon points="1668.0,2846.2 1676.6,2842.5 1727.8,2872.1 1734.5,2869.6 1748.0,2889.3 1716.0,2881.9 1720.9,2877.0" fill="#a3a3a3" stroke="#1f1f1f" stroke-width="1.6" />
</g>
<rect x="1454" y="2660.4" width="388.79999999999995" height="618.5999999999999" fill="none" stroke="#1f1f1f" stroke-width="1.6"/>
</g>

</svg>
</body>
</html>
